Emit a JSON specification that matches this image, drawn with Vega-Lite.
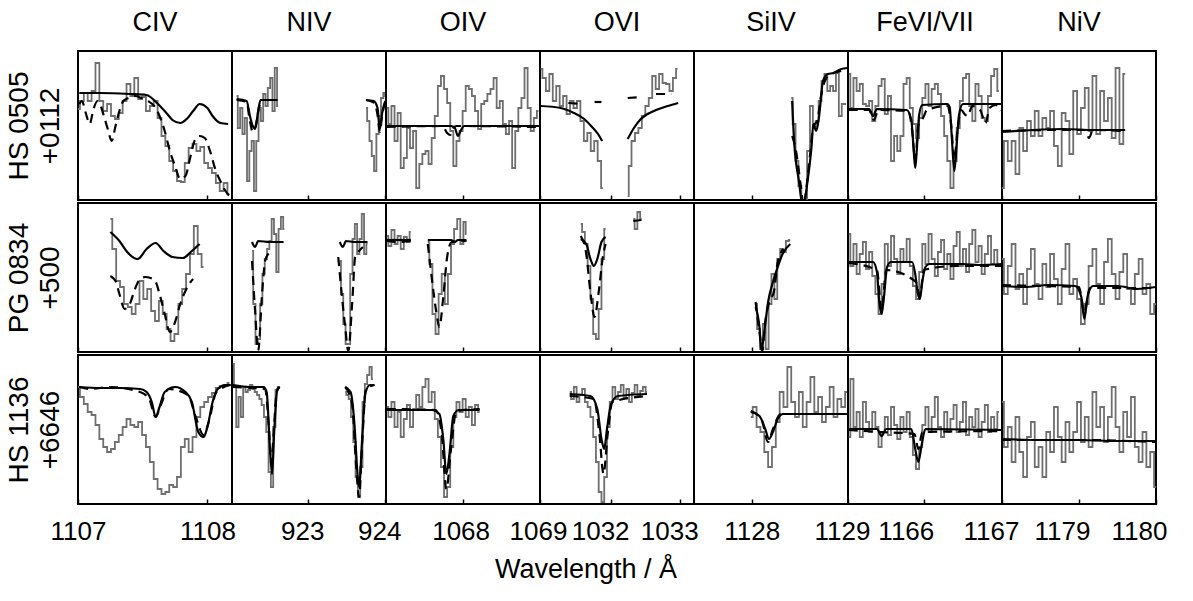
{
  "$schema": "https://vega.github.io/schema/vega-lite/v6.json",
  "background": "white",
  "padding": {"left": 4, "top": 8, "right": 10, "bottom": 5},
  "title": {"text": "Wavelength / Å", "orient": "bottom", "anchor": "middle", "offset": 12},
  "spacing": 0,
  "config": {
    "font": "Liberation Sans",
    "view": {"stroke": "black", "strokeWidth": 2},
    "title": {"fontSize": 27, "fontWeight": "normal", "color": "black", "anchor": "middle", "offset": 14, "font": "Liberation Sans"},
    "axis": {"titleFont": "Liberation Sans", "titleFontSize": 28, "titleFontWeight": "normal", "titleColor": "black"},
    "axisX": {"labelFontSize": 26, "labelColor": "black", "labelFont": "Liberation Sans", "tickColor": "black", "tickSize": -5, "tickWidth": 1.5, "labelPadding": 19, "domain": false, "grid": false, "labelFlush": false, "labelOverlap": false, "format": "d"},
    "line": {"color": "black", "strokeWidth": 2.2, "interpolate": "monotone"},
    "rule": {"color": "black", "strokeWidth": 2, "strokeDash": [2, 7]}
  },
  "datasets": {
    "CIV": [
      {"s":1,"k":"L","w":1107.60},{"s":1,"k":"L","w":1107.90},{"s":1,"k":"L","w":1108.00},
      {"s":2,"k":"L","w":1107.60},{"s":2,"k":"L","w":1107.90},{"s":2,"k":"L","w":1108.00},
      {"s":3,"k":"L","w":1107.60},{"s":3,"k":"L","w":1107.90},{"s":3,"k":"L","w":1108.00},
      {"s":1,"k":"o","w":1107.00,"f":0.91},{"s":1,"k":"o","w":1107.03,"f":0.99},{"s":1,"k":"o","w":1107.06,"f":1.07},{"s":1,"k":"o","w":1107.09,"f":0.99},{"s":1,"k":"o","w":1107.12,"f":1.09},{"s":1,"k":"o","w":1107.15,"f":1.37},{"s":1,"k":"o","w":1107.18,"f":0.99},{"s":1,"k":"o","w":1107.21,"f":0.89},{"s":1,"k":"o","w":1107.24,"f":0.96},{"s":1,"k":"o","w":1107.27,"f":0.84},{"s":1,"k":"o","w":1107.30,"f":0.81},{"s":1,"k":"o","w":1107.33,"f":0.87},{"s":1,"k":"o","w":1107.36,"f":0.99},{"s":1,"k":"o","w":1107.39,"f":1.16},{"s":1,"k":"o","w":1107.42,"f":1.04},{"s":1,"k":"o","w":1107.45,"f":1.22},{"s":1,"k":"o","w":1107.48,"f":1.01},{"s":1,"k":"o","w":1107.51,"f":1.03},{"s":1,"k":"o","w":1107.54,"f":0.89},{"s":1,"k":"o","w":1107.57,"f":0.94},{"s":1,"k":"o","w":1107.60,"f":0.99},{"s":1,"k":"o","w":1107.63,"f":0.82},{"s":1,"k":"o","w":1107.66,"f":0.64},{"s":1,"k":"o","w":1107.69,"f":0.54},{"s":1,"k":"o","w":1107.72,"f":0.39},{"s":1,"k":"o","w":1107.75,"f":0.29},{"s":1,"k":"o","w":1107.78,"f":0.19},{"s":1,"k":"o","w":1107.81,"f":0.18},{"s":1,"k":"o","w":1107.84,"f":0.37},{"s":1,"k":"o","w":1107.87,"f":0.52},{"s":1,"k":"o","w":1107.90,"f":0.56},{"s":1,"k":"o","w":1107.93,"f":0.49},{"s":1,"k":"o","w":1107.96,"f":0.53},{"s":1,"k":"o","w":1107.99,"f":0.37},{"s":1,"k":"o","w":1108.02,"f":0.32},{"s":1,"k":"o","w":1108.05,"f":0.27},{"s":1,"k":"o","w":1108.08,"f":0.17},{"s":1,"k":"o","w":1108.11,"f":0.09},{"s":1,"k":"o","w":1108.14,"f":0.17},{"s":1,"k":"o","w":1108.17,"f":0.06},
      {"s":1,"k":"a","w":1107.01,"f":1.07},{"s":1,"k":"a","w":1107.17,"f":1.07},{"s":1,"k":"a","w":1107.40,"f":1.06},{"s":1,"k":"a","w":1107.53,"f":1.05},{"s":1,"k":"a","w":1107.61,"f":0.97},{"s":1,"k":"a","w":1107.69,"f":0.86},{"s":1,"k":"a","w":1107.73,"f":0.80},{"s":1,"k":"a","w":1107.79,"f":0.77},{"s":1,"k":"a","w":1107.84,"f":0.81},{"s":1,"k":"a","w":1107.89,"f":0.89},{"s":1,"k":"a","w":1107.94,"f":0.96},{"s":1,"k":"a","w":1108.00,"f":0.92},{"s":1,"k":"a","w":1108.04,"f":0.84},{"s":1,"k":"a","w":1108.10,"f":0.77},{"s":1,"k":"a","w":1108.16,"f":0.76},
      {"s":1,"k":"b","w":1107.01,"f":0.96},{"s":1,"k":"b","w":1107.03,"f":0.99},{"s":1,"k":"b","w":1107.06,"f":0.87},{"s":1,"k":"b","w":1107.09,"f":0.76},{"s":1,"k":"b","w":1107.12,"f":0.91},{"s":1,"k":"b","w":1107.15,"f":0.99},{"s":1,"k":"b","w":1107.17,"f":0.96},{"s":1,"k":"b","w":1107.20,"f":0.84},{"s":1,"k":"b","w":1107.23,"f":0.71},{"s":1,"k":"b","w":1107.26,"f":0.59},{"s":1,"k":"b","w":1107.29,"f":0.74},{"s":1,"k":"b","w":1107.32,"f":0.89},{"s":1,"k":"b","w":1107.35,"f":0.99},{"s":1,"k":"b","w":1107.39,"f":1.02},{"s":1,"k":"b","w":1107.44,"f":1.04},{"s":1,"k":"b","w":1107.49,"f":1.02},{"s":1,"k":"b","w":1107.54,"f":0.99},{"s":1,"k":"b","w":1107.60,"f":0.92},{"s":1,"k":"b","w":1107.63,"f":0.84},{"s":1,"k":"b","w":1107.67,"f":0.69},{"s":1,"k":"b","w":1107.71,"f":0.49},{"s":1,"k":"b","w":1107.75,"f":0.34},{"s":1,"k":"b","w":1107.79,"f":0.21},{"s":1,"k":"b","w":1107.83,"f":0.24},{"s":1,"k":"b","w":1107.87,"f":0.44},{"s":1,"k":"b","w":1107.90,"f":0.59},{"s":1,"k":"b","w":1107.94,"f":0.64},{"s":1,"k":"b","w":1107.98,"f":0.62},{"s":1,"k":"b","w":1108.02,"f":0.49},{"s":1,"k":"b","w":1108.06,"f":0.31},{"s":1,"k":"b","w":1108.10,"f":0.19},{"s":1,"k":"b","w":1108.14,"f":0.09},{"s":1,"k":"b","w":1108.17,"f":0.04},
      {"s":2,"k":"o","w":1107.25,"f":1.33},{"s":2,"k":"o","w":1107.28,"f":1.03},{"s":2,"k":"o","w":1107.31,"f":0.71},{"s":2,"k":"o","w":1107.34,"f":0.65},{"s":2,"k":"o","w":1107.37,"f":0.48},{"s":2,"k":"o","w":1107.40,"f":0.45},{"s":2,"k":"o","w":1107.43,"f":0.38},{"s":2,"k":"o","w":1107.46,"f":0.48},{"s":2,"k":"o","w":1107.49,"f":0.71},{"s":2,"k":"o","w":1107.52,"f":0.53},{"s":2,"k":"o","w":1107.55,"f":0.63},{"s":2,"k":"o","w":1107.58,"f":0.41},{"s":2,"k":"o","w":1107.61,"f":0.31},{"s":2,"k":"o","w":1107.64,"f":0.51},{"s":2,"k":"o","w":1107.67,"f":0.38},{"s":2,"k":"o","w":1107.70,"f":0.23},{"s":2,"k":"o","w":1107.73,"f":0.11},{"s":2,"k":"o","w":1107.76,"f":0.18},{"s":2,"k":"o","w":1107.79,"f":0.48},{"s":2,"k":"o","w":1107.82,"f":0.63},{"s":2,"k":"o","w":1107.85,"f":0.78},{"s":2,"k":"o","w":1107.88,"f":0.98},{"s":2,"k":"o","w":1107.91,"f":1.26},{"s":2,"k":"o","w":1107.94,"f":0.98},{"s":2,"k":"o","w":1107.97,"f":0.85},
      {"s":2,"k":"a","w":1107.25,"f":1.20},{"s":2,"k":"a","w":1107.32,"f":1.11},{"s":2,"k":"a","w":1107.38,"f":1.00},{"s":2,"k":"a","w":1107.46,"f":0.93},{"s":2,"k":"a","w":1107.53,"f":1.03},{"s":2,"k":"a","w":1107.60,"f":1.09},{"s":2,"k":"a","w":1107.66,"f":1.01},{"s":2,"k":"a","w":1107.73,"f":0.95},{"s":2,"k":"a","w":1107.81,"f":0.94},{"s":2,"k":"a","w":1107.88,"f":1.01},{"s":2,"k":"a","w":1107.94,"f":1.08},
      {"s":2,"k":"b","w":1107.25,"f":0.76},{"s":2,"k":"b","w":1107.29,"f":0.71},{"s":2,"k":"b","w":1107.32,"f":0.58},{"s":2,"k":"b","w":1107.36,"f":0.43},{"s":2,"k":"b","w":1107.40,"f":0.48},{"s":2,"k":"b","w":1107.44,"f":0.63},{"s":2,"k":"b","w":1107.48,"f":0.73},{"s":2,"k":"b","w":1107.52,"f":0.75},{"s":2,"k":"b","w":1107.56,"f":0.74},{"s":2,"k":"b","w":1107.60,"f":0.70},{"s":2,"k":"b","w":1107.63,"f":0.58},{"s":2,"k":"b","w":1107.67,"f":0.38},{"s":2,"k":"b","w":1107.71,"f":0.20},{"s":2,"k":"b","w":1107.75,"f":0.30},{"s":2,"k":"b","w":1107.79,"f":0.48},{"s":2,"k":"b","w":1107.83,"f":0.61},{"s":2,"k":"b","w":1107.87,"f":0.70},{"s":2,"k":"b","w":1107.89,"f":0.73},
      {"s":3,"k":"o","w":1107.00,"f":1.17},{"s":3,"k":"o","w":1107.03,"f":1.07},{"s":3,"k":"o","w":1107.06,"f":1.00},{"s":3,"k":"o","w":1107.09,"f":0.92},{"s":3,"k":"o","w":1107.12,"f":0.89},{"s":3,"k":"o","w":1107.15,"f":0.79},{"s":3,"k":"o","w":1107.18,"f":0.65},{"s":3,"k":"o","w":1107.21,"f":0.57},{"s":3,"k":"o","w":1107.24,"f":0.52},{"s":3,"k":"o","w":1107.27,"f":0.55},{"s":3,"k":"o","w":1107.30,"f":0.62},{"s":3,"k":"o","w":1107.33,"f":0.69},{"s":3,"k":"o","w":1107.36,"f":0.77},{"s":3,"k":"o","w":1107.39,"f":0.85},{"s":3,"k":"o","w":1107.42,"f":0.79},{"s":3,"k":"o","w":1107.45,"f":0.77},{"s":3,"k":"o","w":1107.48,"f":0.82},{"s":3,"k":"o","w":1107.51,"f":0.69},{"s":3,"k":"o","w":1107.54,"f":0.57},{"s":3,"k":"o","w":1107.57,"f":0.42},{"s":3,"k":"o","w":1107.60,"f":0.25},{"s":3,"k":"o","w":1107.63,"f":0.15},{"s":3,"k":"o","w":1107.66,"f":0.10},{"s":3,"k":"o","w":1107.69,"f":0.12},{"s":3,"k":"o","w":1107.72,"f":0.19},{"s":3,"k":"o","w":1107.75,"f":0.17},{"s":3,"k":"o","w":1107.78,"f":0.27},{"s":3,"k":"o","w":1107.81,"f":0.57},{"s":3,"k":"o","w":1107.84,"f":0.65},{"s":3,"k":"o","w":1107.87,"f":0.52},{"s":3,"k":"o","w":1107.90,"f":0.67},{"s":3,"k":"o","w":1107.93,"f":0.87},{"s":3,"k":"o","w":1107.96,"f":0.97},{"s":3,"k":"o","w":1107.99,"f":1.02},{"s":3,"k":"o","w":1108.02,"f":1.07},{"s":3,"k":"o","w":1108.05,"f":1.11},{"s":3,"k":"o","w":1108.08,"f":1.16},{"s":3,"k":"o","w":1108.11,"f":1.18},{"s":3,"k":"o","w":1108.14,"f":1.19},{"s":3,"k":"o","w":1108.17,"f":1.21},
      {"s":3,"k":"a","w":1107.01,"f":1.17},{"s":3,"k":"a","w":1107.17,"f":1.16},{"s":3,"k":"a","w":1107.32,"f":1.16},{"s":3,"k":"a","w":1107.48,"f":1.15},{"s":3,"k":"a","w":1107.53,"f":1.12},{"s":3,"k":"a","w":1107.57,"f":1.02},{"s":3,"k":"a","w":1107.60,"f":0.87},{"s":3,"k":"a","w":1107.63,"f":0.97},{"s":3,"k":"a","w":1107.67,"f":1.12},{"s":3,"k":"a","w":1107.75,"f":1.17},{"s":3,"k":"a","w":1107.83,"f":1.12},{"s":3,"k":"a","w":1107.88,"f":1.02},{"s":3,"k":"a","w":1107.93,"f":0.72},{"s":3,"k":"a","w":1107.97,"f":0.67},{"s":3,"k":"a","w":1108.00,"f":0.77},{"s":3,"k":"a","w":1108.04,"f":1.02},{"s":3,"k":"a","w":1108.08,"f":1.15},{"s":3,"k":"a","w":1108.14,"f":1.19},{"s":3,"k":"a","w":1108.18,"f":1.19},
      {"s":3,"k":"b","w":1107.01,"f":1.17},{"s":3,"k":"b","w":1107.09,"f":1.15},{"s":3,"k":"b","w":1107.25,"f":1.17},{"s":3,"k":"b","w":1107.48,"f":1.12},{"s":3,"k":"b","w":1107.55,"f":1.05},{"s":3,"k":"b","w":1107.60,"f":0.87},{"s":3,"k":"b","w":1107.64,"f":0.99},{"s":3,"k":"b","w":1107.70,"f":1.15},{"s":3,"k":"b","w":1107.85,"f":1.09},{"s":3,"k":"b","w":1107.91,"f":0.87},{"s":3,"k":"b","w":1107.97,"f":0.69},{"s":3,"k":"b","w":1108.01,"f":0.82},{"s":3,"k":"b","w":1108.07,"f":1.12},{"s":3,"k":"b","w":1108.18,"f":1.19}
    ],
    "NIV": [
      {"s":1,"k":"L","w":922.52},{"s":1,"k":"L","w":923.12},{"s":1,"k":"L","w":923.19},{"s":1,"k":"L","w":923.71},
      {"s":2,"k":"L","w":922.52},{"s":2,"k":"L","w":923.12},{"s":2,"k":"L","w":923.19},{"s":2,"k":"L","w":923.71},
      {"s":3,"k":"L","w":922.52},{"s":3,"k":"L","w":923.12},{"s":3,"k":"L","w":923.19},{"s":3,"k":"L","w":923.71},
      {"s":1,"k":"o","g":1,"w":922.07,"f":1.04},{"s":1,"k":"o","g":1,"w":922.10,"f":0.72},{"s":1,"k":"o","g":1,"w":922.13,"f":0.92},{"s":1,"k":"o","g":1,"w":922.16,"f":0.66},{"s":1,"k":"o","g":1,"w":922.19,"f":0.82},{"s":1,"k":"o","g":1,"w":922.22,"f":0.19},{"s":1,"k":"o","g":1,"w":922.25,"f":0.49},{"s":1,"k":"o","g":1,"w":922.28,"f":0.59},{"s":1,"k":"o","g":1,"w":922.31,"f":0.09},{"s":1,"k":"o","g":1,"w":922.34,"f":0.59},{"s":1,"k":"o","g":1,"w":922.37,"f":0.92},{"s":1,"k":"o","g":1,"w":922.40,"f":0.79},{"s":1,"k":"o","g":1,"w":922.43,"f":1.06},{"s":1,"k":"o","g":1,"w":922.46,"f":0.94},{"s":1,"k":"o","g":1,"w":922.49,"f":1.12},{"s":1,"k":"o","g":1,"w":922.52,"f":1.22},{"s":1,"k":"o","g":1,"w":922.55,"f":0.89},{"s":1,"k":"o","g":1,"w":922.58,"f":1.32},{"s":1,"k":"o","g":1,"w":922.61,"f":0.94},
      {"s":1,"k":"o","g":2,"w":923.75,"f":0.92},{"s":1,"k":"o","g":2,"w":923.78,"f":0.79},{"s":1,"k":"o","g":2,"w":923.81,"f":0.59},{"s":1,"k":"o","g":2,"w":923.84,"f":0.44},{"s":1,"k":"o","g":2,"w":923.87,"f":0.29},{"s":1,"k":"o","g":2,"w":923.90,"f":0.66},{"s":1,"k":"o","g":2,"w":923.93,"f":0.84},{"s":1,"k":"o","g":2,"w":923.96,"f":1.02},{"s":1,"k":"o","g":2,"w":923.99,"f":1.07},{"s":1,"k":"o","g":2,"w":924.01,"f":1.04},
      {"s":1,"k":"a","g":1,"w":922.07,"f":1.01},{"s":1,"k":"a","g":1,"w":922.20,"f":0.99},{"s":1,"k":"a","g":1,"w":922.24,"f":0.85},{"s":1,"k":"a","g":1,"w":922.27,"f":0.76},{"s":1,"k":"a","g":1,"w":922.31,"f":0.71},{"s":1,"k":"a","g":1,"w":922.35,"f":0.89},{"s":1,"k":"a","g":1,"w":922.38,"f":1.00},{"s":1,"k":"a","g":1,"w":922.47,"f":1.00},{"s":1,"k":"a","g":1,"w":922.60,"f":1.00},
      {"s":1,"k":"a","g":2,"w":923.75,"f":1.00},{"s":1,"k":"a","g":2,"w":923.85,"f":0.99},{"s":1,"k":"a","g":2,"w":923.90,"f":0.92},{"s":1,"k":"a","g":2,"w":923.93,"f":0.71},{"s":1,"k":"a","g":2,"w":923.96,"f":0.87},{"s":1,"k":"a","g":2,"w":924.00,"f":0.99},
      {"s":1,"k":"b","g":1,"w":922.07,"f":1.00},{"s":1,"k":"b","g":1,"w":922.20,"f":0.98},{"s":1,"k":"b","g":1,"w":922.24,"f":0.80},{"s":1,"k":"b","g":1,"w":922.28,"f":0.68},{"s":1,"k":"b","g":1,"w":922.32,"f":0.75},{"s":1,"k":"b","g":1,"w":922.36,"f":0.92},{"s":1,"k":"b","g":1,"w":922.40,"f":1.00},{"s":1,"k":"b","g":1,"w":922.60,"f":1.00},
      {"s":1,"k":"b","g":2,"w":923.75,"f":1.00},{"s":1,"k":"b","g":2,"w":923.86,"f":0.97},{"s":1,"k":"b","g":2,"w":923.90,"f":0.85},{"s":1,"k":"b","g":2,"w":923.93,"f":0.68},{"s":1,"k":"b","g":2,"w":923.96,"f":0.85},{"s":1,"k":"b","g":2,"w":924.00,"f":0.98},
      {"s":2,"k":"o","g":1,"w":922.27,"f":1.01},{"s":2,"k":"o","g":1,"w":922.30,"f":0.48},{"s":2,"k":"o","g":1,"w":922.33,"f":0.08},{"s":2,"k":"o","g":1,"w":922.36,"f":0.13},{"s":2,"k":"o","g":1,"w":922.39,"f":0.48},{"s":2,"k":"o","g":1,"w":922.42,"f":0.78},{"s":2,"k":"o","g":1,"w":922.45,"f":0.93},{"s":2,"k":"o","g":1,"w":922.48,"f":1.03},{"s":2,"k":"o","g":1,"w":922.51,"f":1.11},{"s":2,"k":"o","g":1,"w":922.54,"f":1.33},{"s":2,"k":"o","g":1,"w":922.57,"f":1.18},{"s":2,"k":"o","g":1,"w":922.60,"f":0.80},{"s":2,"k":"o","g":1,"w":922.63,"f":1.23},{"s":2,"k":"o","g":1,"w":922.66,"f":1.35},{"s":2,"k":"o","g":1,"w":922.69,"f":1.23},
      {"s":2,"k":"o","g":2,"w":923.41,"f":0.91},{"s":2,"k":"o","g":2,"w":923.44,"f":0.58},{"s":2,"k":"o","g":2,"w":923.47,"f":0.28},{"s":2,"k":"o","g":2,"w":923.50,"f":0.08},{"s":2,"k":"o","g":2,"w":923.53,"f":0.08},{"s":2,"k":"o","g":2,"w":923.56,"f":0.78},{"s":2,"k":"o","g":2,"w":923.59,"f":1.13},{"s":2,"k":"o","g":2,"w":923.62,"f":1.28},{"s":2,"k":"o","g":2,"w":923.65,"f":0.98},{"s":2,"k":"o","g":2,"w":923.68,"f":1.13},{"s":2,"k":"o","g":2,"w":923.71,"f":1.38},{"s":2,"k":"o","g":2,"w":923.74,"f":0.98},{"s":2,"k":"o","g":2,"w":923.77,"f":1.08},
      {"s":2,"k":"a","g":1,"w":922.27,"f":1.10},{"s":2,"k":"a","g":1,"w":922.31,"f":1.05},{"s":2,"k":"a","g":1,"w":922.35,"f":1.11},{"s":2,"k":"a","g":1,"w":922.50,"f":1.10},{"s":2,"k":"a","g":1,"w":922.68,"f":1.10},
      {"s":2,"k":"a","g":2,"w":923.41,"f":1.10},{"s":2,"k":"a","g":2,"w":923.45,"f":1.05},{"s":2,"k":"a","g":2,"w":923.49,"f":1.11},{"s":2,"k":"a","g":2,"w":923.60,"f":1.10},{"s":2,"k":"a","g":2,"w":923.77,"f":1.10},
      {"s":2,"k":"b","g":1,"w":922.27,"f":0.91},{"s":2,"k":"b","g":1,"w":922.31,"f":0.41},{"s":2,"k":"b","g":1,"w":922.35,"f":0.01},{"s":2,"k":"b","g":1,"w":922.40,"f":0.58},{"s":2,"k":"b","g":1,"w":922.44,"f":0.91},{"s":2,"k":"b","g":1,"w":922.48,"f":0.98},{"s":2,"k":"b","g":1,"w":922.53,"f":1.00},
      {"s":2,"k":"b","g":2,"w":923.39,"f":0.95},{"s":2,"k":"b","g":2,"w":923.48,"f":0.25},{"s":2,"k":"b","g":2,"w":923.52,"f":0.01},{"s":2,"k":"b","g":2,"w":923.57,"f":0.48},{"s":2,"k":"b","g":2,"w":923.61,"f":0.95},{"s":2,"k":"b","g":2,"w":923.65,"f":1.00},{"s":2,"k":"b","g":2,"w":923.71,"f":1.05},
      {"s":3,"k":"o","g":1,"w":922.02,"f":1.40},{"s":3,"k":"o","g":1,"w":922.05,"f":1.17},{"s":3,"k":"o","g":1,"w":922.08,"f":0.77},{"s":3,"k":"o","g":1,"w":922.11,"f":1.07},{"s":3,"k":"o","g":1,"w":922.14,"f":0.87},{"s":3,"k":"o","g":1,"w":922.17,"f":1.17},{"s":3,"k":"o","g":1,"w":922.20,"f":1.12},{"s":3,"k":"o","g":1,"w":922.23,"f":1.14},{"s":3,"k":"o","g":1,"w":922.26,"f":1.19},{"s":3,"k":"o","g":1,"w":922.29,"f":1.15},{"s":3,"k":"o","g":1,"w":922.32,"f":1.12},{"s":3,"k":"o","g":1,"w":922.35,"f":1.09},{"s":3,"k":"o","g":1,"w":922.38,"f":1.05},{"s":3,"k":"o","g":1,"w":922.41,"f":0.99},{"s":3,"k":"o","g":1,"w":922.44,"f":0.87},{"s":3,"k":"o","g":1,"w":922.47,"f":0.72},{"s":3,"k":"o","g":1,"w":922.50,"f":0.32},{"s":3,"k":"o","g":1,"w":922.53,"f":0.17},{"s":3,"k":"o","g":1,"w":922.56,"f":0.77},{"s":3,"k":"o","g":1,"w":922.59,"f":1.14},{"s":3,"k":"o","g":1,"w":922.62,"f":1.17},
      {"s":3,"k":"o","g":2,"w":923.48,"f":1.12},{"s":3,"k":"o","g":2,"w":923.51,"f":1.09},{"s":3,"k":"o","g":2,"w":923.54,"f":1.05},{"s":3,"k":"o","g":2,"w":923.57,"f":0.87},{"s":3,"k":"o","g":2,"w":923.60,"f":0.62},{"s":3,"k":"o","g":2,"w":923.63,"f":0.27},{"s":3,"k":"o","g":2,"w":923.66,"f":0.07},{"s":3,"k":"o","g":2,"w":923.69,"f":0.37},{"s":3,"k":"o","g":2,"w":923.72,"f":1.02},{"s":3,"k":"o","g":2,"w":923.75,"f":1.20},{"s":3,"k":"o","g":2,"w":923.78,"f":1.29},{"s":3,"k":"o","g":2,"w":923.81,"f":1.37},{"s":3,"k":"o","g":2,"w":923.84,"f":1.25},
      {"s":3,"k":"a","g":1,"w":922.02,"f":1.19},{"s":3,"k":"a","g":1,"w":922.25,"f":1.17},{"s":3,"k":"a","g":1,"w":922.42,"f":1.17},{"s":3,"k":"a","g":1,"w":922.46,"f":1.12},{"s":3,"k":"a","g":1,"w":922.50,"f":0.60},{"s":3,"k":"a","g":1,"w":922.53,"f":0.30},{"s":3,"k":"a","g":1,"w":922.56,"f":0.75},{"s":3,"k":"a","g":1,"w":922.60,"f":1.15},{"s":3,"k":"a","g":1,"w":922.63,"f":1.17},
      {"s":3,"k":"a","g":2,"w":923.48,"f":1.17},{"s":3,"k":"a","g":2,"w":923.55,"f":1.12},{"s":3,"k":"a","g":2,"w":923.60,"f":0.80},{"s":3,"k":"a","g":2,"w":923.64,"f":0.30},{"s":3,"k":"a","g":2,"w":923.66,"f":0.17},{"s":3,"k":"a","g":2,"w":923.70,"f":0.65},{"s":3,"k":"a","g":2,"w":923.74,"f":1.10},{"s":3,"k":"a","g":2,"w":923.80,"f":1.19},{"s":3,"k":"a","g":2,"w":923.86,"f":1.19},
      {"s":3,"k":"b","g":1,"w":922.02,"f":1.17},{"s":3,"k":"b","g":1,"w":922.44,"f":1.15},{"s":3,"k":"b","g":1,"w":922.49,"f":0.75},{"s":3,"k":"b","g":1,"w":922.52,"f":0.40},{"s":3,"k":"b","g":1,"w":922.55,"f":0.70},{"s":3,"k":"b","g":1,"w":922.59,"f":1.12},{"s":3,"k":"b","g":1,"w":922.63,"f":1.17},
      {"s":3,"k":"b","g":2,"w":923.48,"f":1.17},{"s":3,"k":"b","g":2,"w":923.57,"f":1.00},{"s":3,"k":"b","g":2,"w":923.62,"f":0.40},{"s":3,"k":"b","g":2,"w":923.66,"f":0.07},{"s":3,"k":"b","g":2,"w":923.70,"f":0.60},{"s":3,"k":"b","g":2,"w":923.75,"f":1.15},{"s":3,"k":"b","g":2,"w":923.86,"f":1.19}
    ],
    "OIV": [
      {"s":1,"k":"L","w":1067.80},{"s":2,"k":"L","w":1067.80},{"s":3,"k":"L","w":1067.80},
      {"s":1,"k":"o","w":1067.02,"f":0.92},{"s":1,"k":"o","w":1067.06,"f":0.76},{"s":1,"k":"o","w":1067.10,"f":0.94},{"s":1,"k":"o","w":1067.14,"f":0.59},{"s":1,"k":"o","w":1067.18,"f":0.87},{"s":1,"k":"o","w":1067.22,"f":0.32},{"s":1,"k":"o","w":1067.26,"f":0.42},{"s":1,"k":"o","w":1067.30,"f":0.72},{"s":1,"k":"o","w":1067.34,"f":0.52},{"s":1,"k":"o","w":1067.38,"f":0.69},{"s":1,"k":"o","w":1067.42,"f":0.12},{"s":1,"k":"o","w":1067.46,"f":0.36},{"s":1,"k":"o","w":1067.50,"f":0.46},{"s":1,"k":"o","w":1067.54,"f":0.49},{"s":1,"k":"o","w":1067.58,"f":0.36},{"s":1,"k":"o","w":1067.62,"f":0.62},{"s":1,"k":"o","w":1067.66,"f":0.84},{"s":1,"k":"o","w":1067.70,"f":1.14},{"s":1,"k":"o","w":1067.74,"f":1.24},{"s":1,"k":"o","w":1067.78,"f":1.11},{"s":1,"k":"o","w":1067.82,"f":0.97},{"s":1,"k":"o","w":1067.86,"f":0.69},{"s":1,"k":"o","w":1067.90,"f":0.34},{"s":1,"k":"o","w":1067.94,"f":0.59},{"s":1,"k":"o","w":1067.98,"f":0.69},{"s":1,"k":"o","w":1068.02,"f":0.89},{"s":1,"k":"o","w":1068.06,"f":1.14},{"s":1,"k":"o","w":1068.10,"f":1.11},{"s":1,"k":"o","w":1068.14,"f":1.04},{"s":1,"k":"o","w":1068.18,"f":0.89},{"s":1,"k":"o","w":1068.22,"f":0.71},{"s":1,"k":"o","w":1068.26,"f":0.96},{"s":1,"k":"o","w":1068.30,"f":0.99},{"s":1,"k":"o","w":1068.34,"f":1.06},{"s":1,"k":"o","w":1068.38,"f":1.11},{"s":1,"k":"o","w":1068.42,"f":1.22},{"s":1,"k":"o","w":1068.46,"f":0.92},{"s":1,"k":"o","w":1068.50,"f":0.99},{"s":1,"k":"o","w":1068.54,"f":0.76},{"s":1,"k":"o","w":1068.58,"f":0.66},{"s":1,"k":"o","w":1068.62,"f":0.79},{"s":1,"k":"o","w":1068.66,"f":0.32},{"s":1,"k":"o","w":1068.70,"f":0.69},{"s":1,"k":"o","w":1068.74,"f":0.92},{"s":1,"k":"o","w":1068.78,"f":1.02},{"s":1,"k":"o","w":1068.82,"f":1.32},{"s":1,"k":"o","w":1068.86,"f":0.92},{"s":1,"k":"o","w":1068.90,"f":0.69},{"s":1,"k":"o","w":1068.94,"f":0.82},{"s":1,"k":"o","w":1068.98,"f":0.89},
      {"s":1,"k":"a","w":1067.02,"f":0.74},{"s":1,"k":"a","w":1067.50,"f":0.74},{"s":1,"k":"a","w":1067.85,"f":0.74},{"s":1,"k":"a","w":1067.90,"f":0.72},{"s":1,"k":"a","w":1067.94,"f":0.64},{"s":1,"k":"a","w":1067.98,"f":0.70},{"s":1,"k":"a","w":1068.02,"f":0.74},{"s":1,"k":"a","w":1068.50,"f":0.74},{"s":1,"k":"a","w":1068.99,"f":0.74},
      {"s":1,"k":"b","w":1067.02,"f":0.73},{"s":1,"k":"b","w":1067.74,"f":0.74},{"s":1,"k":"b","w":1067.80,"f":0.67},{"s":1,"k":"b","w":1067.84,"f":0.65},{"s":1,"k":"b","w":1067.88,"f":0.72},{"s":1,"k":"b","w":1067.92,"f":0.74},{"s":1,"k":"b","w":1068.99,"f":0.73},
      {"s":2,"k":"o","g":1,"w":1067.02,"f":1.16},{"s":2,"k":"o","g":1,"w":1067.06,"f":1.06},{"s":2,"k":"o","g":1,"w":1067.10,"f":1.22},{"s":2,"k":"o","g":1,"w":1067.14,"f":1.08},{"s":2,"k":"o","g":1,"w":1067.18,"f":1.16},{"s":2,"k":"o","g":1,"w":1067.22,"f":1.03},{"s":2,"k":"o","g":1,"w":1067.26,"f":1.15},{"s":2,"k":"o","g":1,"w":1067.30,"f":1.10},{"s":2,"k":"o","g":1,"w":1067.33,"f":1.20},
      {"s":2,"k":"o","g":2,"w":1067.55,"f":1.10},{"s":2,"k":"o","g":2,"w":1067.59,"f":0.88},{"s":2,"k":"o","g":2,"w":1067.63,"f":0.38},{"s":2,"k":"o","g":2,"w":1067.67,"f":0.18},{"s":2,"k":"o","g":2,"w":1067.71,"f":0.58},{"s":2,"k":"o","g":2,"w":1067.75,"f":0.78},{"s":2,"k":"o","g":2,"w":1067.79,"f":0.48},{"s":2,"k":"o","g":2,"w":1067.83,"f":0.78},{"s":2,"k":"o","g":2,"w":1067.87,"f":1.08},{"s":2,"k":"o","g":2,"w":1067.91,"f":1.23},{"s":2,"k":"o","g":2,"w":1067.95,"f":1.33},{"s":2,"k":"o","g":2,"w":1067.99,"f":1.08},{"s":2,"k":"o","g":2,"w":1068.03,"f":1.30},{"s":2,"k":"o","g":2,"w":1068.05,"f":1.18},
      {"s":2,"k":"a","g":1,"w":1067.02,"f":1.12},{"s":2,"k":"a","g":1,"w":1067.33,"f":1.12},
      {"s":2,"k":"a","g":2,"w":1067.55,"f":1.12},{"s":2,"k":"a","g":2,"w":1067.85,"f":1.12},{"s":2,"k":"a","g":2,"w":1067.90,"f":1.10},{"s":2,"k":"a","g":2,"w":1067.94,"f":1.12},{"s":2,"k":"a","g":2,"w":1068.05,"f":1.12},
      {"s":2,"k":"b","g":1,"w":1067.02,"f":1.11},{"s":2,"k":"b","g":1,"w":1067.15,"f":1.10},{"s":2,"k":"b","g":1,"w":1067.33,"f":1.11},
      {"s":2,"k":"b","g":2,"w":1067.55,"f":1.08},{"s":2,"k":"b","g":2,"w":1067.60,"f":0.75},{"s":2,"k":"b","g":2,"w":1067.66,"f":0.40},{"s":2,"k":"b","g":2,"w":1067.70,"f":0.25},{"s":2,"k":"b","g":2,"w":1067.75,"f":0.55},{"s":2,"k":"b","g":2,"w":1067.80,"f":0.95},{"s":2,"k":"b","g":2,"w":1067.86,"f":1.10},{"s":2,"k":"b","g":2,"w":1068.05,"f":1.11},
      {"s":3,"k":"o","w":1067.02,"f":0.97},{"s":3,"k":"o","w":1067.06,"f":0.87},{"s":3,"k":"o","w":1067.10,"f":1.02},{"s":3,"k":"o","w":1067.14,"f":0.77},{"s":3,"k":"o","w":1067.18,"f":0.92},{"s":3,"k":"o","w":1067.22,"f":0.67},{"s":3,"k":"o","w":1067.26,"f":0.85},{"s":3,"k":"o","w":1067.30,"f":0.99},{"s":3,"k":"o","w":1067.34,"f":0.77},{"s":3,"k":"o","w":1067.38,"f":0.95},{"s":3,"k":"o","w":1067.42,"f":1.09},{"s":3,"k":"o","w":1067.46,"f":0.97},{"s":3,"k":"o","w":1067.50,"f":1.17},{"s":3,"k":"o","w":1067.54,"f":1.25},{"s":3,"k":"o","w":1067.58,"f":1.02},{"s":3,"k":"o","w":1067.62,"f":1.12},{"s":3,"k":"o","w":1067.66,"f":0.85},{"s":3,"k":"o","w":1067.70,"f":0.67},{"s":3,"k":"o","w":1067.74,"f":0.37},{"s":3,"k":"o","w":1067.78,"f":0.07},{"s":3,"k":"o","w":1067.82,"f":0.17},{"s":3,"k":"o","w":1067.86,"f":0.57},{"s":3,"k":"o","w":1067.90,"f":0.87},{"s":3,"k":"o","w":1067.94,"f":1.02},{"s":3,"k":"o","w":1067.98,"f":0.92},{"s":3,"k":"o","w":1068.02,"f":1.05},{"s":3,"k":"o","w":1068.06,"f":0.87},{"s":3,"k":"o","w":1068.10,"f":0.97},{"s":3,"k":"o","w":1068.14,"f":0.79},{"s":3,"k":"o","w":1068.18,"f":0.99},{"s":3,"k":"o","w":1068.22,"f":0.92},
      {"s":3,"k":"a","w":1067.02,"f":0.94},{"s":3,"k":"a","w":1067.60,"f":0.94},{"s":3,"k":"a","w":1067.70,"f":0.90},{"s":3,"k":"a","w":1067.75,"f":0.65},{"s":3,"k":"a","w":1067.79,"f":0.30},{"s":3,"k":"a","w":1067.83,"f":0.50},{"s":3,"k":"a","w":1067.88,"f":0.88},{"s":3,"k":"a","w":1067.95,"f":0.94},{"s":3,"k":"a","w":1068.22,"f":0.94},
      {"s":3,"k":"b","w":1067.02,"f":0.95},{"s":3,"k":"b","w":1067.65,"f":0.94},{"s":3,"k":"b","w":1067.73,"f":0.70},{"s":3,"k":"b","w":1067.79,"f":0.15},{"s":3,"k":"b","w":1067.85,"f":0.55},{"s":3,"k":"b","w":1067.92,"f":0.93},{"s":3,"k":"b","w":1068.22,"f":0.95}
    ],
    "OVI": [
      {"s":1,"k":"L","w":1031.90},{"s":2,"k":"L","w":1031.90},{"s":3,"k":"L","w":1031.90},
      {"s":1,"k":"o","g":1,"w":1030.98,"f":1.31},{"s":1,"k":"o","g":1,"w":1031.03,"f":1.22},{"s":1,"k":"o","g":1,"w":1031.08,"f":1.09},{"s":1,"k":"o","g":1,"w":1031.13,"f":1.26},{"s":1,"k":"o","g":1,"w":1031.18,"f":0.99},{"s":1,"k":"o","g":1,"w":1031.23,"f":1.14},{"s":1,"k":"o","g":1,"w":1031.28,"f":0.94},{"s":1,"k":"o","g":1,"w":1031.33,"f":1.04},{"s":1,"k":"o","g":1,"w":1031.38,"f":0.86},{"s":1,"k":"o","g":1,"w":1031.43,"f":0.99},{"s":1,"k":"o","g":1,"w":1031.48,"f":0.92},{"s":1,"k":"o","g":1,"w":1031.53,"f":0.99},{"s":1,"k":"o","g":1,"w":1031.58,"f":0.79},{"s":1,"k":"o","g":1,"w":1031.63,"f":0.59},{"s":1,"k":"o","g":1,"w":1031.68,"f":0.67},{"s":1,"k":"o","g":1,"w":1031.73,"f":0.49},{"s":1,"k":"o","g":1,"w":1031.78,"f":0.59},{"s":1,"k":"o","g":1,"w":1031.83,"f":0.39},{"s":1,"k":"o","g":1,"w":1031.88,"f":0.12},
      {"s":1,"k":"o","g":2,"w":1032.24,"f":0.04},{"s":1,"k":"o","g":2,"w":1032.27,"f":0.34},{"s":1,"k":"o","g":2,"w":1032.32,"f":0.59},{"s":1,"k":"o","g":2,"w":1032.37,"f":0.67},{"s":1,"k":"o","g":2,"w":1032.42,"f":0.72},{"s":1,"k":"o","g":2,"w":1032.47,"f":0.84},{"s":1,"k":"o","g":2,"w":1032.52,"f":0.94},{"s":1,"k":"o","g":2,"w":1032.57,"f":1.02},{"s":1,"k":"o","g":2,"w":1032.62,"f":1.24},{"s":1,"k":"o","g":2,"w":1032.67,"f":1.11},{"s":1,"k":"o","g":2,"w":1032.72,"f":1.26},{"s":1,"k":"o","g":2,"w":1032.77,"f":1.17},{"s":1,"k":"o","g":2,"w":1032.82,"f":1.16},{"s":1,"k":"o","g":2,"w":1032.87,"f":1.09},{"s":1,"k":"o","g":2,"w":1032.92,"f":1.22},{"s":1,"k":"o","g":2,"w":1032.96,"f":1.31},
      {"s":1,"k":"a","g":1,"w":1030.98,"f":0.94},{"s":1,"k":"a","g":1,"w":1031.27,"f":0.92},{"s":1,"k":"a","g":1,"w":1031.46,"f":0.87},{"s":1,"k":"a","g":1,"w":1031.61,"f":0.81},{"s":1,"k":"a","g":1,"w":1031.71,"f":0.74},{"s":1,"k":"a","g":1,"w":1031.81,"f":0.66},{"s":1,"k":"a","g":1,"w":1031.87,"f":0.59},
      {"s":1,"k":"a","g":2,"w":1032.24,"f":0.61},{"s":1,"k":"a","g":2,"w":1032.33,"f":0.72},{"s":1,"k":"a","g":2,"w":1032.43,"f":0.81},{"s":1,"k":"a","g":2,"w":1032.62,"f":0.89},{"s":1,"k":"a","g":2,"w":1032.82,"f":0.94},{"s":1,"k":"a","g":2,"w":1032.97,"f":0.97},
      {"s":1,"k":"b","g":1,"w":1031.38,"f":0.97},{"s":1,"k":"b","g":1,"w":1031.57,"f":0.96},
      {"s":1,"k":"b","g":2,"w":1031.76,"f":0.98},{"s":1,"k":"b","g":2,"w":1031.86,"f":0.98},
      {"s":1,"k":"b","g":3,"w":1032.24,"f":1.02},{"s":1,"k":"b","g":3,"w":1032.43,"f":1.03},
      {"s":1,"k":"b","g":4,"w":1032.65,"f":1.06},{"s":1,"k":"b","g":4,"w":1032.87,"f":1.06},
      {"s":2,"k":"o","g":1,"w":1031.56,"f":1.28},{"s":2,"k":"o","g":1,"w":1031.60,"f":1.20},{"s":2,"k":"o","g":1,"w":1031.64,"f":1.08},{"s":2,"k":"o","g":1,"w":1031.68,"f":0.86},{"s":2,"k":"o","g":1,"w":1031.72,"f":0.53},{"s":2,"k":"o","g":1,"w":1031.76,"f":0.18},{"s":2,"k":"o","g":1,"w":1031.80,"f":0.13},{"s":2,"k":"o","g":1,"w":1031.84,"f":0.43},{"s":2,"k":"o","g":1,"w":1031.88,"f":0.93},{"s":2,"k":"o","g":1,"w":1031.92,"f":1.23},
      {"s":2,"k":"o","g":2,"w":1032.32,"f":1.33},{"s":2,"k":"o","g":2,"w":1032.36,"f":1.23},{"s":2,"k":"o","g":2,"w":1032.40,"f":1.40},{"s":2,"k":"o","g":2,"w":1032.44,"f":1.33},
      {"s":2,"k":"a","g":1,"w":1031.56,"f":1.13},{"s":2,"k":"a","g":1,"w":1031.64,"f":1.08},{"s":2,"k":"a","g":1,"w":1031.70,"f":0.93},{"s":2,"k":"a","g":1,"w":1031.75,"f":0.86},{"s":2,"k":"a","g":1,"w":1031.80,"f":0.93},{"s":2,"k":"a","g":1,"w":1031.86,"f":1.10},{"s":2,"k":"a","g":1,"w":1031.92,"f":1.15},
      {"s":2,"k":"a","g":2,"w":1032.32,"f":1.31},{"s":2,"k":"a","g":2,"w":1032.44,"f":1.32},
      {"s":2,"k":"b","g":1,"w":1031.56,"f":1.16},{"s":2,"k":"b","g":1,"w":1031.64,"f":0.98},{"s":2,"k":"b","g":1,"w":1031.70,"f":0.60},{"s":2,"k":"b","g":1,"w":1031.76,"f":0.35},{"s":2,"k":"b","g":1,"w":1031.82,"f":0.60},{"s":2,"k":"b","g":1,"w":1031.88,"f":0.95},{"s":2,"k":"b","g":1,"w":1031.92,"f":1.08},
      {"s":3,"k":"o","w":1031.40,"f":1.12},{"s":3,"k":"o","w":1031.44,"f":1.05},{"s":3,"k":"o","w":1031.48,"f":1.17},{"s":3,"k":"o","w":1031.52,"f":1.02},{"s":3,"k":"o","w":1031.56,"f":1.09},{"s":3,"k":"o","w":1031.60,"f":1.15},{"s":3,"k":"o","w":1031.64,"f":1.02},{"s":3,"k":"o","w":1031.68,"f":0.97},{"s":3,"k":"o","w":1031.72,"f":0.87},{"s":3,"k":"o","w":1031.76,"f":0.67},{"s":3,"k":"o","w":1031.80,"f":0.42},{"s":3,"k":"o","w":1031.84,"f":0.12},{"s":3,"k":"o","w":1031.88,"f":0.02},{"s":3,"k":"o","w":1031.92,"f":0.27},{"s":3,"k":"o","w":1031.96,"f":0.77},{"s":3,"k":"o","w":1032.00,"f":1.02},{"s":3,"k":"o","w":1032.04,"f":1.17},{"s":3,"k":"o","w":1032.08,"f":1.05},{"s":3,"k":"o","w":1032.12,"f":1.12},{"s":3,"k":"o","w":1032.16,"f":1.19},{"s":3,"k":"o","w":1032.20,"f":1.07},{"s":3,"k":"o","w":1032.24,"f":1.15},{"s":3,"k":"o","w":1032.28,"f":1.02},{"s":3,"k":"o","w":1032.32,"f":1.11},{"s":3,"k":"o","w":1032.36,"f":1.19},{"s":3,"k":"o","w":1032.40,"f":1.09},{"s":3,"k":"o","w":1032.44,"f":1.13},{"s":3,"k":"o","w":1032.48,"f":1.17},{"s":3,"k":"o","w":1032.52,"f":1.12},
      {"s":3,"k":"a","w":1031.40,"f":1.10},{"s":3,"k":"a","w":1031.70,"f":1.08},{"s":3,"k":"a","w":1031.80,"f":0.95},{"s":3,"k":"a","w":1031.86,"f":0.65},{"s":3,"k":"a","w":1031.90,"f":0.55},{"s":3,"k":"a","w":1031.94,"f":0.75},{"s":3,"k":"a","w":1032.00,"f":1.00},{"s":3,"k":"a","w":1032.10,"f":1.08},{"s":3,"k":"a","w":1032.52,"f":1.10},
      {"s":3,"k":"b","w":1031.40,"f":1.08},{"s":3,"k":"b","w":1031.75,"f":1.05},{"s":3,"k":"b","w":1031.83,"f":0.70},{"s":3,"k":"b","w":1031.89,"f":0.30},{"s":3,"k":"b","w":1031.95,"f":0.70},{"s":3,"k":"b","w":1032.02,"f":1.02},{"s":3,"k":"b","w":1032.52,"f":1.08}
    ],
    "SiIV": [
      {"s":1,"k":"L","w":1128.30},{"s":2,"k":"L","w":1128.30},{"s":3,"k":"L","w":1128.30},
      {"s":1,"k":"o","w":1128.41,"f":1.02},{"s":1,"k":"o","w":1128.44,"f":0.76},{"s":1,"k":"o","w":1128.47,"f":0.39},{"s":1,"k":"o","w":1128.50,"f":0.14},{"s":1,"k":"o","w":1128.53,"f":-0.06},{"s":1,"k":"o","w":1128.56,"f":-0.01},{"s":1,"k":"o","w":1128.59,"f":0.49},{"s":1,"k":"o","w":1128.62,"f":0.94},{"s":1,"k":"o","w":1128.65,"f":0.72},{"s":1,"k":"o","w":1128.68,"f":0.79},{"s":1,"k":"o","w":1128.71,"f":0.99},{"s":1,"k":"o","w":1128.74,"f":1.19},{"s":1,"k":"o","w":1128.77,"f":1.26},{"s":1,"k":"o","w":1128.80,"f":1.09},{"s":1,"k":"o","w":1128.83,"f":1.14},{"s":1,"k":"o","w":1128.86,"f":1.09},{"s":1,"k":"o","w":1128.89,"f":1.27},{"s":1,"k":"o","w":1128.92,"f":0.84},{"s":1,"k":"o","w":1128.95,"f":0.96},{"s":1,"k":"o","w":1128.98,"f":0.96},
      {"s":1,"k":"a","w":1128.42,"f":0.99},{"s":1,"k":"a","w":1128.44,"f":0.59},{"s":1,"k":"a","w":1128.49,"f":0.19},{"s":1,"k":"a","w":1128.53,"f":-0.06},{"s":1,"k":"a","w":1128.58,"f":0.19},{"s":1,"k":"a","w":1128.62,"f":0.52},{"s":1,"k":"a","w":1128.64,"f":0.76},{"s":1,"k":"a","w":1128.67,"f":0.69},{"s":1,"k":"a","w":1128.70,"f":0.84},{"s":1,"k":"a","w":1128.74,"f":1.19},{"s":1,"k":"a","w":1128.79,"f":1.26},{"s":1,"k":"a","w":1128.85,"f":1.27},{"s":1,"k":"a","w":1128.93,"f":1.31},{"s":1,"k":"a","w":1128.99,"f":1.32},
      {"s":1,"k":"b","w":1128.42,"f":0.64},{"s":1,"k":"b","w":1128.46,"f":0.49},{"s":1,"k":"b","w":1128.51,"f":0.14},{"s":1,"k":"b","w":1128.54,"f":-0.06},{"s":1,"k":"b","w":1128.57,"f":0.14},{"s":1,"k":"b","w":1128.61,"f":0.49},{"s":1,"k":"b","w":1128.64,"f":0.74},{"s":1,"k":"b","w":1128.68,"f":0.79},{"s":1,"k":"b","w":1128.72,"f":1.04},{"s":1,"k":"b","w":1128.77,"f":1.21},{"s":1,"k":"b","w":1128.85,"f":1.27},{"s":1,"k":"b","w":1128.93,"f":1.29},{"s":1,"k":"b","w":1128.99,"f":1.31},
      {"s":2,"k":"o","w":1128.04,"f":0.48},{"s":2,"k":"o","w":1128.07,"f":0.23},{"s":2,"k":"o","w":1128.10,"f":0.03},{"s":2,"k":"o","w":1128.13,"f":0.28},{"s":2,"k":"o","w":1128.16,"f":0.03},{"s":2,"k":"o","w":1128.19,"f":0.48},{"s":2,"k":"o","w":1128.22,"f":0.78},{"s":2,"k":"o","w":1128.25,"f":0.53},{"s":2,"k":"o","w":1128.28,"f":0.93},{"s":2,"k":"o","w":1128.31,"f":1.03},{"s":2,"k":"o","w":1128.34,"f":1.00},{"s":2,"k":"o","w":1128.37,"f":1.11},{"s":2,"k":"o","w":1128.40,"f":1.12},
      {"s":2,"k":"a","w":1128.04,"f":0.45},{"s":2,"k":"a","w":1128.08,"f":0.25},{"s":2,"k":"a","w":1128.10,"f":0.02},{"s":2,"k":"a","w":1128.13,"f":0.20},{"s":2,"k":"a","w":1128.17,"f":0.50},{"s":2,"k":"a","w":1128.22,"f":0.70},{"s":2,"k":"a","w":1128.27,"f":0.85},{"s":2,"k":"a","w":1128.32,"f":0.98},{"s":2,"k":"a","w":1128.40,"f":1.08},
      {"s":2,"k":"b","w":1128.04,"f":0.50},{"s":2,"k":"b","w":1128.08,"f":0.20},{"s":2,"k":"b","w":1128.11,"f":0.01},{"s":2,"k":"b","w":1128.14,"f":0.30},{"s":2,"k":"b","w":1128.18,"f":0.50},{"s":2,"k":"b","w":1128.23,"f":0.60},{"s":2,"k":"b","w":1128.27,"f":0.90},{"s":2,"k":"b","w":1128.33,"f":1.03},
      {"s":3,"k":"o","w":1127.99,"f":0.87},{"s":3,"k":"o","w":1128.03,"f":0.97},{"s":3,"k":"o","w":1128.07,"f":0.77},{"s":3,"k":"o","w":1128.11,"f":0.72},{"s":3,"k":"o","w":1128.15,"f":0.52},{"s":3,"k":"o","w":1128.19,"f":0.37},{"s":3,"k":"o","w":1128.23,"f":0.57},{"s":3,"k":"o","w":1128.27,"f":0.82},{"s":3,"k":"o","w":1128.31,"f":1.12},{"s":3,"k":"o","w":1128.35,"f":0.97},{"s":3,"k":"o","w":1128.39,"f":1.37},{"s":3,"k":"o","w":1128.43,"f":1.02},{"s":3,"k":"o","w":1128.47,"f":0.87},{"s":3,"k":"o","w":1128.51,"f":1.12},{"s":3,"k":"o","w":1128.55,"f":0.77},{"s":3,"k":"o","w":1128.59,"f":1.02},{"s":3,"k":"o","w":1128.63,"f":1.27},{"s":3,"k":"o","w":1128.67,"f":0.92},{"s":3,"k":"o","w":1128.71,"f":1.07},{"s":3,"k":"o","w":1128.75,"f":0.82},{"s":3,"k":"o","w":1128.79,"f":0.97},{"s":3,"k":"o","w":1128.83,"f":1.17},{"s":3,"k":"o","w":1128.87,"f":0.87},{"s":3,"k":"o","w":1128.91,"f":1.05},{"s":3,"k":"o","w":1128.95,"f":0.97},{"s":3,"k":"o","w":1128.99,"f":1.12},
      {"s":3,"k":"a","w":1127.99,"f":0.92},{"s":3,"k":"a","w":1128.08,"f":0.88},{"s":3,"k":"a","w":1128.14,"f":0.75},{"s":3,"k":"a","w":1128.18,"f":0.65},{"s":3,"k":"a","w":1128.22,"f":0.72},{"s":3,"k":"a","w":1128.27,"f":0.85},{"s":3,"k":"a","w":1128.33,"f":0.90},{"s":3,"k":"a","w":1129.00,"f":0.90},
      {"s":3,"k":"b","w":1127.99,"f":0.93},{"s":3,"k":"b","w":1128.10,"f":0.85},{"s":3,"k":"b","w":1128.17,"f":0.62},{"s":3,"k":"b","w":1128.22,"f":0.75},{"s":3,"k":"b","w":1128.30,"f":0.90},{"s":3,"k":"b","w":1129.00,"f":0.90}
    ],
    "FeVI": [
      {"s":1,"k":"L","w":1165.11},{"s":1,"k":"L","w":1165.71},{"s":1,"k":"L","w":1166.19},
      {"s":2,"k":"L","w":1165.11},{"s":2,"k":"L","w":1165.71},{"s":2,"k":"L","w":1166.19},
      {"s":3,"k":"L","w":1165.11},{"s":3,"k":"L","w":1165.71},{"s":3,"k":"L","w":1166.19},
      {"s":1,"k":"o","w":1165.04,"f":1.26},{"s":1,"k":"o","w":1165.08,"f":0.92},{"s":1,"k":"o","w":1165.12,"f":1.22},{"s":1,"k":"o","w":1165.16,"f":1.09},{"s":1,"k":"o","w":1165.20,"f":1.16},{"s":1,"k":"o","w":1165.24,"f":0.96},{"s":1,"k":"o","w":1165.28,"f":0.94},{"s":1,"k":"o","w":1165.32,"f":0.99},{"s":1,"k":"o","w":1165.36,"f":0.79},{"s":1,"k":"o","w":1165.40,"f":0.94},{"s":1,"k":"o","w":1165.44,"f":1.14},{"s":1,"k":"o","w":1165.48,"f":1.21},{"s":1,"k":"o","w":1165.52,"f":0.86},{"s":1,"k":"o","w":1165.56,"f":1.04},{"s":1,"k":"o","w":1165.60,"f":0.39},{"s":1,"k":"o","w":1165.64,"f":0.64},{"s":1,"k":"o","w":1165.68,"f":0.49},{"s":1,"k":"o","w":1165.72,"f":0.64},{"s":1,"k":"o","w":1165.76,"f":1.16},{"s":1,"k":"o","w":1165.80,"f":1.22},{"s":1,"k":"o","w":1165.84,"f":0.92},{"s":1,"k":"o","w":1165.88,"f":0.76},{"s":1,"k":"o","w":1165.92,"f":0.62},{"s":1,"k":"o","w":1165.96,"f":0.82},{"s":1,"k":"o","w":1166.00,"f":1.02},{"s":1,"k":"o","w":1166.04,"f":1.16},{"s":1,"k":"o","w":1166.08,"f":0.94},{"s":1,"k":"o","w":1166.12,"f":1.11},{"s":1,"k":"o","w":1166.16,"f":1.16},{"s":1,"k":"o","w":1166.20,"f":1.06},{"s":1,"k":"o","w":1166.24,"f":0.84},{"s":1,"k":"o","w":1166.28,"f":0.64},{"s":1,"k":"o","w":1166.32,"f":0.39},{"s":1,"k":"o","w":1166.36,"f":0.12},{"s":1,"k":"o","w":1166.40,"f":0.39},{"s":1,"k":"o","w":1166.44,"f":0.72},{"s":1,"k":"o","w":1166.48,"f":0.99},{"s":1,"k":"o","w":1166.52,"f":1.22},{"s":1,"k":"o","w":1166.56,"f":1.26},{"s":1,"k":"o","w":1166.60,"f":0.94},{"s":1,"k":"o","w":1166.64,"f":0.79},{"s":1,"k":"o","w":1166.68,"f":1.16},{"s":1,"k":"o","w":1166.72,"f":1.04},{"s":1,"k":"o","w":1166.76,"f":0.82},{"s":1,"k":"o","w":1166.80,"f":0.79},{"s":1,"k":"o","w":1166.84,"f":1.04},{"s":1,"k":"o","w":1166.88,"f":1.24},{"s":1,"k":"o","w":1166.92,"f":1.31},{"s":1,"k":"o","w":1166.96,"f":1.09},
      {"s":1,"k":"a","w":1165.04,"f":0.91},{"s":1,"k":"a","w":1165.30,"f":0.91},{"s":1,"k":"a","w":1165.35,"f":0.84},{"s":1,"k":"a","w":1165.40,"f":0.91},{"s":1,"k":"a","w":1165.78,"f":0.90},{"s":1,"k":"a","w":1165.84,"f":0.80},{"s":1,"k":"a","w":1165.87,"f":0.50},{"s":1,"k":"a","w":1165.89,"f":0.32},{"s":1,"k":"a","w":1165.91,"f":0.50},{"s":1,"k":"a","w":1165.94,"f":0.85},{"s":1,"k":"a","w":1165.98,"f":0.95},{"s":1,"k":"a","w":1166.30,"f":0.96},{"s":1,"k":"a","w":1166.33,"f":0.93},{"s":1,"k":"a","w":1166.36,"f":0.60},{"s":1,"k":"a","w":1166.39,"f":0.29},{"s":1,"k":"a","w":1166.42,"f":0.55},{"s":1,"k":"a","w":1166.45,"f":0.85},{"s":1,"k":"a","w":1166.50,"f":0.96},{"s":1,"k":"a","w":1167.00,"f":0.96},
      {"s":1,"k":"b","w":1165.04,"f":0.90},{"s":1,"k":"b","w":1165.30,"f":0.90},{"s":1,"k":"b","w":1165.36,"f":0.80},{"s":1,"k":"b","w":1165.42,"f":0.90},{"s":1,"k":"b","w":1165.80,"f":0.89},{"s":1,"k":"b","w":1165.85,"f":0.70},{"s":1,"k":"b","w":1165.89,"f":0.40},{"s":1,"k":"b","w":1165.93,"f":0.75},{"s":1,"k":"b","w":1165.99,"f":0.82},{"s":1,"k":"b","w":1166.04,"f":0.90},{"s":1,"k":"b","w":1166.30,"f":0.94},{"s":1,"k":"b","w":1166.35,"f":0.75},{"s":1,"k":"b","w":1166.39,"f":0.40},{"s":1,"k":"b","w":1166.43,"f":0.70},{"s":1,"k":"b","w":1166.48,"f":0.90},{"s":1,"k":"b","w":1166.52,"f":0.86},{"s":1,"k":"b","w":1166.56,"f":0.84},{"s":1,"k":"b","w":1166.62,"f":0.94},{"s":1,"k":"b","w":1166.72,"f":0.90},{"s":1,"k":"b","w":1166.79,"f":0.77},{"s":1,"k":"b","w":1166.84,"f":0.92},{"s":1,"k":"b","w":1166.92,"f":0.95},{"s":1,"k":"b","w":1166.98,"f":0.89},
      {"s":2,"k":"o","w":1165.04,"f":1.18},{"s":2,"k":"o","w":1165.08,"f":0.86},{"s":2,"k":"o","w":1165.12,"f":1.08},{"s":2,"k":"o","w":1165.16,"f":0.78},{"s":2,"k":"o","w":1165.20,"f":0.98},{"s":2,"k":"o","w":1165.24,"f":1.10},{"s":2,"k":"o","w":1165.28,"f":0.83},{"s":2,"k":"o","w":1165.32,"f":1.00},{"s":2,"k":"o","w":1165.36,"f":0.76},{"s":2,"k":"o","w":1165.40,"f":0.58},{"s":2,"k":"o","w":1165.44,"f":0.38},{"s":2,"k":"o","w":1165.48,"f":0.68},{"s":2,"k":"o","w":1165.52,"f":1.08},{"s":2,"k":"o","w":1165.56,"f":0.86},{"s":2,"k":"o","w":1165.60,"f":1.16},{"s":2,"k":"o","w":1165.64,"f":0.93},{"s":2,"k":"o","w":1165.68,"f":0.78},{"s":2,"k":"o","w":1165.72,"f":1.03},{"s":2,"k":"o","w":1165.76,"f":0.90},{"s":2,"k":"o","w":1165.80,"f":1.13},{"s":2,"k":"o","w":1165.84,"f":0.86},{"s":2,"k":"o","w":1165.88,"f":0.66},{"s":2,"k":"o","w":1165.92,"f":0.53},{"s":2,"k":"o","w":1165.96,"f":0.80},{"s":2,"k":"o","w":1166.00,"f":1.08},{"s":2,"k":"o","w":1166.04,"f":0.88},{"s":2,"k":"o","w":1166.08,"f":1.18},{"s":2,"k":"o","w":1166.12,"f":0.93},{"s":2,"k":"o","w":1166.16,"f":0.76},{"s":2,"k":"o","w":1166.20,"f":1.00},{"s":2,"k":"o","w":1166.24,"f":1.12},{"s":2,"k":"o","w":1166.28,"f":0.83},{"s":2,"k":"o","w":1166.32,"f":0.98},{"s":2,"k":"o","w":1166.36,"f":0.73},{"s":2,"k":"o","w":1166.40,"f":1.06},{"s":2,"k":"o","w":1166.44,"f":1.20},{"s":2,"k":"o","w":1166.48,"f":0.86},{"s":2,"k":"o","w":1166.52,"f":1.03},{"s":2,"k":"o","w":1166.56,"f":0.80},{"s":2,"k":"o","w":1166.60,"f":1.08},{"s":2,"k":"o","w":1166.64,"f":1.22},{"s":2,"k":"o","w":1166.68,"f":0.90},{"s":2,"k":"o","w":1166.72,"f":1.06},{"s":2,"k":"o","w":1166.76,"f":0.78},{"s":2,"k":"o","w":1166.80,"f":0.98},{"s":2,"k":"o","w":1166.84,"f":1.16},{"s":2,"k":"o","w":1166.88,"f":0.88},{"s":2,"k":"o","w":1166.92,"f":1.02},{"s":2,"k":"o","w":1166.96,"f":0.86},
      {"s":2,"k":"a","w":1165.04,"f":0.90},{"s":2,"k":"a","w":1165.35,"f":0.90},{"s":2,"k":"a","w":1165.40,"f":0.80},{"s":2,"k":"a","w":1165.43,"f":0.50},{"s":2,"k":"a","w":1165.46,"f":0.38},{"s":2,"k":"a","w":1165.49,"f":0.55},{"s":2,"k":"a","w":1165.53,"f":0.85},{"s":2,"k":"a","w":1165.58,"f":0.90},{"s":2,"k":"a","w":1165.85,"f":0.90},{"s":2,"k":"a","w":1165.89,"f":0.78},{"s":2,"k":"a","w":1165.92,"f":0.60},{"s":2,"k":"a","w":1165.95,"f":0.53},{"s":2,"k":"a","w":1165.98,"f":0.70},{"s":2,"k":"a","w":1166.02,"f":0.85},{"s":2,"k":"a","w":1166.07,"f":0.88},{"s":2,"k":"a","w":1166.50,"f":0.88},{"s":2,"k":"a","w":1166.70,"f":0.87},{"s":2,"k":"a","w":1167.00,"f":0.88},
      {"s":2,"k":"b","w":1165.04,"f":0.89},{"s":2,"k":"b","w":1165.40,"f":0.82},{"s":2,"k":"b","w":1165.46,"f":0.42},{"s":2,"k":"b","w":1165.52,"f":0.82},{"s":2,"k":"b","w":1165.90,"f":0.70},{"s":2,"k":"b","w":1165.95,"f":0.56},{"s":2,"k":"b","w":1166.00,"f":0.82},{"s":2,"k":"b","w":1166.40,"f":0.86},{"s":2,"k":"b","w":1167.00,"f":0.86},
      {"s":3,"k":"o","w":1165.04,"f":0.67},{"s":3,"k":"o","w":1165.08,"f":1.25},{"s":3,"k":"o","w":1165.12,"f":0.77},{"s":3,"k":"o","w":1165.16,"f":0.92},{"s":3,"k":"o","w":1165.20,"f":0.67},{"s":3,"k":"o","w":1165.24,"f":1.02},{"s":3,"k":"o","w":1165.28,"f":0.82},{"s":3,"k":"o","w":1165.32,"f":0.72},{"s":3,"k":"o","w":1165.36,"f":0.92},{"s":3,"k":"o","w":1165.40,"f":0.77},{"s":3,"k":"o","w":1165.44,"f":0.57},{"s":3,"k":"o","w":1165.48,"f":0.72},{"s":3,"k":"o","w":1165.52,"f":0.87},{"s":3,"k":"o","w":1165.56,"f":0.69},{"s":3,"k":"o","w":1165.60,"f":0.97},{"s":3,"k":"o","w":1165.64,"f":0.79},{"s":3,"k":"o","w":1165.68,"f":0.65},{"s":3,"k":"o","w":1165.72,"f":0.87},{"s":3,"k":"o","w":1165.76,"f":0.72},{"s":3,"k":"o","w":1165.80,"f":0.92},{"s":3,"k":"o","w":1165.84,"f":0.67},{"s":3,"k":"o","w":1165.88,"f":0.49},{"s":3,"k":"o","w":1165.92,"f":0.35},{"s":3,"k":"o","w":1165.96,"f":0.57},{"s":3,"k":"o","w":1166.00,"f":0.79},{"s":3,"k":"o","w":1166.04,"f":0.97},{"s":3,"k":"o","w":1166.08,"f":0.72},{"s":3,"k":"o","w":1166.12,"f":0.87},{"s":3,"k":"o","w":1166.16,"f":1.07},{"s":3,"k":"o","w":1166.20,"f":0.77},{"s":3,"k":"o","w":1166.24,"f":0.67},{"s":3,"k":"o","w":1166.28,"f":0.92},{"s":3,"k":"o","w":1166.32,"f":0.72},{"s":3,"k":"o","w":1166.36,"f":0.85},{"s":3,"k":"o","w":1166.40,"f":0.99},{"s":3,"k":"o","w":1166.44,"f":0.72},{"s":3,"k":"o","w":1166.48,"f":0.82},{"s":3,"k":"o","w":1166.52,"f":1.02},{"s":3,"k":"o","w":1166.56,"f":0.69},{"s":3,"k":"o","w":1166.60,"f":0.87},{"s":3,"k":"o","w":1166.64,"f":0.77},{"s":3,"k":"o","w":1166.68,"f":0.95},{"s":3,"k":"o","w":1166.72,"f":0.67},{"s":3,"k":"o","w":1166.76,"f":0.82},{"s":3,"k":"o","w":1166.80,"f":0.99},{"s":3,"k":"o","w":1166.84,"f":0.72},{"s":3,"k":"o","w":1166.88,"f":0.87},{"s":3,"k":"o","w":1166.92,"f":0.75},{"s":3,"k":"o","w":1166.96,"f":0.92},
      {"s":3,"k":"a","w":1165.04,"f":0.75},{"s":3,"k":"a","w":1165.40,"f":0.75},{"s":3,"k":"a","w":1165.46,"f":0.68},{"s":3,"k":"a","w":1165.52,"f":0.75},{"s":3,"k":"a","w":1165.84,"f":0.75},{"s":3,"k":"a","w":1165.89,"f":0.55},{"s":3,"k":"a","w":1165.93,"f":0.42},{"s":3,"k":"a","w":1165.97,"f":0.58},{"s":3,"k":"a","w":1166.02,"f":0.75},{"s":3,"k":"a","w":1167.00,"f":0.74},
      {"s":3,"k":"b","w":1165.04,"f":0.74},{"s":3,"k":"b","w":1165.45,"f":0.72},{"s":3,"k":"b","w":1165.88,"f":0.70},{"s":3,"k":"b","w":1165.93,"f":0.55},{"s":3,"k":"b","w":1165.98,"f":0.72},{"s":3,"k":"b","w":1167.00,"f":0.73}
    ],
    "NiV": [
      {"s":1,"k":"L","w":1178.89},{"s":2,"k":"L","w":1178.89},{"s":3,"k":"L","w":1178.89},
      {"s":1,"k":"o","w":1178.00,"f":0.12},{"s":1,"k":"o","w":1178.05,"f":0.59},{"s":1,"k":"o","w":1178.10,"f":0.39},{"s":1,"k":"o","w":1178.15,"f":0.59},{"s":1,"k":"o","w":1178.20,"f":0.26},{"s":1,"k":"o","w":1178.25,"f":0.72},{"s":1,"k":"o","w":1178.30,"f":0.49},{"s":1,"k":"o","w":1178.35,"f":0.79},{"s":1,"k":"o","w":1178.40,"f":0.64},{"s":1,"k":"o","w":1178.45,"f":0.89},{"s":1,"k":"o","w":1178.50,"f":0.64},{"s":1,"k":"o","w":1178.55,"f":0.82},{"s":1,"k":"o","w":1178.60,"f":0.72},{"s":1,"k":"o","w":1178.65,"f":0.89},{"s":1,"k":"o","w":1178.70,"f":0.54},{"s":1,"k":"o","w":1178.75,"f":0.34},{"s":1,"k":"o","w":1178.80,"f":0.87},{"s":1,"k":"o","w":1178.85,"f":0.79},{"s":1,"k":"o","w":1178.90,"f":0.46},{"s":1,"k":"o","w":1178.95,"f":1.09},{"s":1,"k":"o","w":1179.00,"f":0.66},{"s":1,"k":"o","w":1179.05,"f":0.92},{"s":1,"k":"o","w":1179.10,"f":1.12},{"s":1,"k":"o","w":1179.15,"f":0.69},{"s":1,"k":"o","w":1179.20,"f":1.24},{"s":1,"k":"o","w":1179.25,"f":0.66},{"s":1,"k":"o","w":1179.30,"f":1.09},{"s":1,"k":"o","w":1179.35,"f":0.79},{"s":1,"k":"o","w":1179.40,"f":1.02},{"s":1,"k":"o","w":1179.45,"f":0.62},{"s":1,"k":"o","w":1179.50,"f":1.32},{"s":1,"k":"o","w":1179.55,"f":0.56},{"s":1,"k":"o","w":1179.60,"f":1.26},
      {"s":1,"k":"a","w":1178.00,"f":0.68},{"s":1,"k":"a","w":1178.40,"f":0.70},{"s":1,"k":"a","w":1178.80,"f":0.71},{"s":1,"k":"a","w":1179.20,"f":0.70},{"s":1,"k":"a","w":1179.60,"f":0.70},
      {"s":1,"k":"b","w":1178.00,"f":0.69},{"s":1,"k":"b","w":1178.60,"f":0.70},{"s":1,"k":"b","w":1179.08,"f":0.70},{"s":1,"k":"b","w":1179.13,"f":0.62},{"s":1,"k":"b","w":1179.18,"f":0.70},{"s":1,"k":"b","w":1179.60,"f":0.69},
      {"s":2,"k":"o","w":1178.00,"f":0.93},{"s":2,"k":"o","w":1178.05,"f":0.58},{"s":2,"k":"o","w":1178.10,"f":0.86},{"s":2,"k":"o","w":1178.15,"f":1.08},{"s":2,"k":"o","w":1178.20,"f":0.63},{"s":2,"k":"o","w":1178.25,"f":0.78},{"s":2,"k":"o","w":1178.30,"f":0.48},{"s":2,"k":"o","w":1178.35,"f":0.83},{"s":2,"k":"o","w":1178.40,"f":1.03},{"s":2,"k":"o","w":1178.45,"f":0.68},{"s":2,"k":"o","w":1178.50,"f":0.53},{"s":2,"k":"o","w":1178.55,"f":0.88},{"s":2,"k":"o","w":1178.60,"f":0.65},{"s":2,"k":"o","w":1178.65,"f":0.98},{"s":2,"k":"o","w":1178.70,"f":0.73},{"s":2,"k":"o","w":1178.75,"f":0.48},{"s":2,"k":"o","w":1178.80,"f":0.83},{"s":2,"k":"o","w":1178.85,"f":1.08},{"s":2,"k":"o","w":1178.90,"f":0.58},{"s":2,"k":"o","w":1178.95,"f":0.73},{"s":2,"k":"o","w":1179.00,"f":0.53},{"s":2,"k":"o","w":1179.05,"f":0.28},{"s":2,"k":"o","w":1179.10,"f":0.48},{"s":2,"k":"o","w":1179.15,"f":0.86},{"s":2,"k":"o","w":1179.20,"f":1.03},{"s":2,"k":"o","w":1179.25,"f":0.68},{"s":2,"k":"o","w":1179.30,"f":0.48},{"s":2,"k":"o","w":1179.35,"f":0.90},{"s":2,"k":"o","w":1179.40,"f":1.13},{"s":2,"k":"o","w":1179.45,"f":0.78},{"s":2,"k":"o","w":1179.50,"f":0.53},{"s":2,"k":"o","w":1179.55,"f":0.80},{"s":2,"k":"o","w":1179.60,"f":0.98},{"s":2,"k":"o","w":1179.65,"f":0.63},{"s":2,"k":"o","w":1179.70,"f":0.48},{"s":2,"k":"o","w":1179.75,"f":0.78},{"s":2,"k":"o","w":1179.80,"f":0.93},{"s":2,"k":"o","w":1179.85,"f":0.58},{"s":2,"k":"o","w":1179.90,"f":0.68},{"s":2,"k":"o","w":1179.95,"f":0.38},{"s":2,"k":"o","w":1180.00,"f":0.48},
      {"s":2,"k":"a","w":1178.00,"f":0.66},{"s":2,"k":"a","w":1178.30,"f":0.65},{"s":2,"k":"a","w":1178.60,"f":0.67},{"s":2,"k":"a","w":1178.95,"f":0.66},{"s":2,"k":"a","w":1179.03,"f":0.55},{"s":2,"k":"a","w":1179.07,"f":0.33},{"s":2,"k":"a","w":1179.11,"f":0.55},{"s":2,"k":"a","w":1179.18,"f":0.66},{"s":2,"k":"a","w":1179.50,"f":0.66},{"s":2,"k":"a","w":1179.75,"f":0.63},{"s":2,"k":"a","w":1180.00,"f":0.65},
      {"s":2,"k":"b","w":1178.00,"f":0.67},{"s":2,"k":"b","w":1178.50,"f":0.66},{"s":2,"k":"b","w":1179.00,"f":0.65},{"s":2,"k":"b","w":1179.07,"f":0.40},{"s":2,"k":"b","w":1179.14,"f":0.64},{"s":2,"k":"b","w":1180.00,"f":0.64},
      {"s":3,"k":"o","w":1178.00,"f":1.02},{"s":3,"k":"o","w":1178.05,"f":0.57},{"s":3,"k":"o","w":1178.10,"f":0.77},{"s":3,"k":"o","w":1178.15,"f":0.42},{"s":3,"k":"o","w":1178.20,"f":0.87},{"s":3,"k":"o","w":1178.25,"f":0.52},{"s":3,"k":"o","w":1178.30,"f":0.27},{"s":3,"k":"o","w":1178.35,"f":0.67},{"s":3,"k":"o","w":1178.40,"f":0.82},{"s":3,"k":"o","w":1178.45,"f":0.37},{"s":3,"k":"o","w":1178.50,"f":0.57},{"s":3,"k":"o","w":1178.55,"f":0.27},{"s":3,"k":"o","w":1178.60,"f":0.72},{"s":3,"k":"o","w":1178.65,"f":0.52},{"s":3,"k":"o","w":1178.70,"f":0.97},{"s":3,"k":"o","w":1178.75,"f":0.67},{"s":3,"k":"o","w":1178.80,"f":0.42},{"s":3,"k":"o","w":1178.85,"f":0.82},{"s":3,"k":"o","w":1178.90,"f":0.52},{"s":3,"k":"o","w":1178.95,"f":0.72},{"s":3,"k":"o","w":1179.00,"f":1.02},{"s":3,"k":"o","w":1179.05,"f":0.62},{"s":3,"k":"o","w":1179.10,"f":0.87},{"s":3,"k":"o","w":1179.15,"f":0.57},{"s":3,"k":"o","w":1179.20,"f":1.12},{"s":3,"k":"o","w":1179.25,"f":0.77},{"s":3,"k":"o","w":1179.30,"f":0.97},{"s":3,"k":"o","w":1179.35,"f":0.62},{"s":3,"k":"o","w":1179.40,"f":0.87},{"s":3,"k":"o","w":1179.45,"f":1.17},{"s":3,"k":"o","w":1179.50,"f":0.77},{"s":3,"k":"o","w":1179.55,"f":0.52},{"s":3,"k":"o","w":1179.60,"f":0.92},{"s":3,"k":"o","w":1179.65,"f":0.67},{"s":3,"k":"o","w":1179.70,"f":1.07},{"s":3,"k":"o","w":1179.75,"f":0.57},{"s":3,"k":"o","w":1179.80,"f":0.42},{"s":3,"k":"o","w":1179.85,"f":0.72},{"s":3,"k":"o","w":1179.90,"f":0.37},{"s":3,"k":"o","w":1179.95,"f":0.52},{"s":3,"k":"o","w":1180.00,"f":0.17},
      {"s":3,"k":"a","w":1178.00,"f":0.65},{"s":3,"k":"a","w":1178.50,"f":0.64},{"s":3,"k":"a","w":1179.00,"f":0.64},{"s":3,"k":"a","w":1179.50,"f":0.63},{"s":3,"k":"a","w":1180.00,"f":0.63},
      {"s":3,"k":"b","w":1178.00,"f":0.64},{"s":3,"k":"b","w":1179.00,"f":0.64},{"s":3,"k":"b","w":1180.00,"f":0.62}
    ]
  },
  "vconcat": [
    {
      "spacing": 0,
      "bounds": "flush",
      "hconcat": [
        {"data": {"name": "CIV"}, "transform": [{"filter": "datum.s == 1"}], "title": "CIV", "width": 154, "height": 149,
         "encoding": {"x": {"field": "w", "type": "quantitative", "title": null, "scale": {"domain": [1107, 1108.19], "nice": false, "zero": false}, "axis": {"values": [1107, 1108], "labels": false}},
                      "y": {"field": "f", "type": "quantitative", "scale": {"domain": [0, 1.49], "nice": false, "zero": false}, "axis": {"title": ["HS 0505", "+0112"], "labels": false, "ticks": false, "domain": false, "grid": false, "titlePadding": 14, "titleLineHeight": 31}},
                      "detail": {"field": "g", "type": "nominal"}},
         "layer": [
           {"transform": [{"filter": "datum.k == 'L'"}], "mark": "rule", "encoding": {"y": {"datum": 0}, "y2": {"datum": 1.49}}},
           {"transform": [{"filter": "datum.k == 'o'"}], "mark": {"type": "line", "interpolate": "step", "color": "#6f6f6f", "strokeWidth": 1.8, "clip": true}, "encoding": {}},
           {"transform": [{"filter": "datum.k == 'a'"}], "mark": {"type": "line", "clip": true}, "encoding": {}},
           {"transform": [{"filter": "datum.k == 'b'"}], "mark": {"type": "line", "strokeDash": [9, 6], "clip": true}, "encoding": {}}
         ]},
        {"data": {"name": "NIV"}, "transform": [{"filter": "datum.s == 1"}], "title": "NIV", "width": 154, "height": 149,
         "encoding": {"x": {"field": "w", "type": "quantitative", "title": null, "scale": {"domain": [922.01, 924.01], "nice": false, "zero": false}, "axis": {"values": [923, 924], "labels": false}},
                      "y": {"field": "f", "type": "quantitative", "scale": {"domain": [0, 1.49], "nice": false, "zero": false}, "axis": null},
                      "detail": {"field": "g", "type": "nominal"}},
         "layer": [
           {"transform": [{"filter": "datum.k == 'L'"}], "mark": "rule", "encoding": {"y": {"datum": 0}, "y2": {"datum": 1.49}}},
           {"transform": [{"filter": "datum.k == 'o'"}], "mark": {"type": "line", "interpolate": "step", "color": "#6f6f6f", "strokeWidth": 1.8, "clip": true}, "encoding": {}},
           {"transform": [{"filter": "datum.k == 'a'"}], "mark": {"type": "line", "clip": true}, "encoding": {}},
           {"transform": [{"filter": "datum.k == 'b'"}], "mark": {"type": "line", "strokeDash": [9, 6], "clip": true}, "encoding": {}}
         ]},
        {"data": {"name": "OIV"}, "transform": [{"filter": "datum.s == 1"}], "title": "OIV", "width": 154, "height": 149,
         "encoding": {"x": {"field": "w", "type": "quantitative", "title": null, "scale": {"domain": [1067.01, 1069.0], "nice": false, "zero": false}, "axis": {"values": [1068, 1069], "labels": false}},
                      "y": {"field": "f", "type": "quantitative", "scale": {"domain": [0, 1.49], "nice": false, "zero": false}, "axis": null},
                      "detail": {"field": "g", "type": "nominal"}},
         "layer": [
           {"transform": [{"filter": "datum.k == 'L'"}], "mark": "rule", "encoding": {"y": {"datum": 0}, "y2": {"datum": 1.49}}},
           {"transform": [{"filter": "datum.k == 'o'"}], "mark": {"type": "line", "interpolate": "step", "color": "#6f6f6f", "strokeWidth": 1.8, "clip": true}, "encoding": {}},
           {"transform": [{"filter": "datum.k == 'a'"}], "mark": {"type": "line", "clip": true}, "encoding": {}},
           {"transform": [{"filter": "datum.k == 'b'"}], "mark": {"type": "line", "strokeDash": [9, 6], "clip": true}, "encoding": {}}
         ]},
        {"data": {"name": "OVI"}, "transform": [{"filter": "datum.s == 1"}], "title": "OVI", "width": 154, "height": 149,
         "encoding": {"x": {"field": "w", "type": "quantitative", "title": null, "scale": {"domain": [1030.97, 1033.2], "nice": false, "zero": false}, "axis": {"values": [1032, 1033], "labels": false}},
                      "y": {"field": "f", "type": "quantitative", "scale": {"domain": [0, 1.49], "nice": false, "zero": false}, "axis": null},
                      "detail": {"field": "g", "type": "nominal"}},
         "layer": [
           {"transform": [{"filter": "datum.k == 'L'"}], "mark": "rule", "encoding": {"y": {"datum": 0}, "y2": {"datum": 1.49}}},
           {"transform": [{"filter": "datum.k == 'o'"}], "mark": {"type": "line", "interpolate": "step", "color": "#6f6f6f", "strokeWidth": 1.8, "clip": true}, "encoding": {}},
           {"transform": [{"filter": "datum.k == 'a'"}], "mark": {"type": "line", "clip": true}, "encoding": {}},
           {"transform": [{"filter": "datum.k == 'b'"}], "mark": {"type": "line", "strokeDash": [9, 6], "clip": true}, "encoding": {}}
         ]},
        {"data": {"name": "SiIV"}, "transform": [{"filter": "datum.s == 1"}], "title": "SiIV", "width": 154, "height": 149,
         "encoding": {"x": {"field": "w", "type": "quantitative", "title": null, "scale": {"domain": [1127.4, 1129.0], "nice": false, "zero": false}, "axis": {"values": [1128, 1129], "labels": false}},
                      "y": {"field": "f", "type": "quantitative", "scale": {"domain": [0, 1.49], "nice": false, "zero": false}, "axis": null},
                      "detail": {"field": "g", "type": "nominal"}},
         "layer": [
           {"transform": [{"filter": "datum.k == 'L'"}], "mark": "rule", "encoding": {"y": {"datum": 0}, "y2": {"datum": 1.49}}},
           {"transform": [{"filter": "datum.k == 'o'"}], "mark": {"type": "line", "interpolate": "step", "color": "#6f6f6f", "strokeWidth": 1.8, "clip": true}, "encoding": {}},
           {"transform": [{"filter": "datum.k == 'a'"}], "mark": {"type": "line", "clip": true}, "encoding": {}},
           {"transform": [{"filter": "datum.k == 'b'"}], "mark": {"type": "line", "strokeDash": [9, 6], "clip": true}, "encoding": {}}
         ]},
        {"data": {"name": "FeVI"}, "transform": [{"filter": "datum.s == 1"}], "title": "FeVI/VII", "width": 154, "height": 149,
         "encoding": {"x": {"field": "w", "type": "quantitative", "title": null, "scale": {"domain": [1165.03, 1167.0], "nice": false, "zero": false}, "axis": {"values": [1166, 1167], "labels": false}},
                      "y": {"field": "f", "type": "quantitative", "scale": {"domain": [0, 1.49], "nice": false, "zero": false}, "axis": null},
                      "detail": {"field": "g", "type": "nominal"}},
         "layer": [
           {"transform": [{"filter": "datum.k == 'L'"}], "mark": "rule", "encoding": {"y": {"datum": 0}, "y2": {"datum": 1.49}}},
           {"transform": [{"filter": "datum.k == 'o'"}], "mark": {"type": "line", "interpolate": "step", "color": "#6f6f6f", "strokeWidth": 1.8, "clip": true}, "encoding": {}},
           {"transform": [{"filter": "datum.k == 'a'"}], "mark": {"type": "line", "clip": true}, "encoding": {}},
           {"transform": [{"filter": "datum.k == 'b'"}], "mark": {"type": "line", "strokeDash": [9, 6], "clip": true}, "encoding": {}}
         ]},
        {"data": {"name": "NiV"}, "transform": [{"filter": "datum.s == 1"}], "title": "NiV", "width": 154, "height": 149,
         "encoding": {"x": {"field": "w", "type": "quantitative", "title": null, "scale": {"domain": [1178.0, 1180.0], "nice": false, "zero": false}, "axis": {"values": [1179, 1180], "labels": false}},
                      "y": {"field": "f", "type": "quantitative", "scale": {"domain": [0, 1.49], "nice": false, "zero": false}, "axis": null},
                      "detail": {"field": "g", "type": "nominal"}},
         "layer": [
           {"transform": [{"filter": "datum.k == 'L'"}], "mark": "rule", "encoding": {"y": {"datum": 0}, "y2": {"datum": 1.49}}},
           {"transform": [{"filter": "datum.k == 'o'"}], "mark": {"type": "line", "interpolate": "step", "color": "#6f6f6f", "strokeWidth": 1.8, "clip": true}, "encoding": {}},
           {"transform": [{"filter": "datum.k == 'a'"}], "mark": {"type": "line", "clip": true}, "encoding": {}},
           {"transform": [{"filter": "datum.k == 'b'"}], "mark": {"type": "line", "strokeDash": [9, 6], "clip": true}, "encoding": {}}
         ]}
      ]
    },
    {
      "spacing": 0,
      "bounds": "flush",
      "hconcat": [
        {"data": {"name": "CIV"}, "transform": [{"filter": "datum.s == 2"}], "width": 154, "height": 149,
         "encoding": {"x": {"field": "w", "type": "quantitative", "title": null, "scale": {"domain": [1107, 1108.19], "nice": false, "zero": false}, "axis": {"values": [1107, 1108], "labels": false}},
                      "y": {"field": "f", "type": "quantitative", "scale": {"domain": [0, 1.49], "nice": false, "zero": false}, "axis": {"title": ["PG 0834", "+500"], "labels": false, "ticks": false, "domain": false, "grid": false, "titlePadding": 14, "titleLineHeight": 31}},
                      "detail": {"field": "g", "type": "nominal"}},
         "layer": [
           {"transform": [{"filter": "datum.k == 'L'"}], "mark": "rule", "encoding": {"y": {"datum": 0}, "y2": {"datum": 1.49}}},
           {"transform": [{"filter": "datum.k == 'o'"}], "mark": {"type": "line", "interpolate": "step", "color": "#6f6f6f", "strokeWidth": 1.8, "clip": true}, "encoding": {}},
           {"transform": [{"filter": "datum.k == 'a'"}], "mark": {"type": "line", "clip": true}, "encoding": {}},
           {"transform": [{"filter": "datum.k == 'b'"}], "mark": {"type": "line", "strokeDash": [9, 6], "clip": true}, "encoding": {}}
         ]},
        {"data": {"name": "NIV"}, "transform": [{"filter": "datum.s == 2"}], "width": 154, "height": 149,
         "encoding": {"x": {"field": "w", "type": "quantitative", "title": null, "scale": {"domain": [922.01, 924.01], "nice": false, "zero": false}, "axis": {"values": [923, 924], "labels": false}},
                      "y": {"field": "f", "type": "quantitative", "scale": {"domain": [0, 1.49], "nice": false, "zero": false}, "axis": null},
                      "detail": {"field": "g", "type": "nominal"}},
         "layer": [
           {"transform": [{"filter": "datum.k == 'L'"}], "mark": "rule", "encoding": {"y": {"datum": 0}, "y2": {"datum": 1.49}}},
           {"transform": [{"filter": "datum.k == 'o'"}], "mark": {"type": "line", "interpolate": "step", "color": "#6f6f6f", "strokeWidth": 1.8, "clip": true}, "encoding": {}},
           {"transform": [{"filter": "datum.k == 'a'"}], "mark": {"type": "line", "clip": true}, "encoding": {}},
           {"transform": [{"filter": "datum.k == 'b'"}], "mark": {"type": "line", "strokeDash": [9, 6], "clip": true}, "encoding": {}}
         ]},
        {"data": {"name": "OIV"}, "transform": [{"filter": "datum.s == 2"}], "width": 154, "height": 149,
         "encoding": {"x": {"field": "w", "type": "quantitative", "title": null, "scale": {"domain": [1067.01, 1069.0], "nice": false, "zero": false}, "axis": {"values": [1068, 1069], "labels": false}},
                      "y": {"field": "f", "type": "quantitative", "scale": {"domain": [0, 1.49], "nice": false, "zero": false}, "axis": null},
                      "detail": {"field": "g", "type": "nominal"}},
         "layer": [
           {"transform": [{"filter": "datum.k == 'L'"}], "mark": "rule", "encoding": {"y": {"datum": 0}, "y2": {"datum": 1.49}}},
           {"transform": [{"filter": "datum.k == 'o'"}], "mark": {"type": "line", "interpolate": "step", "color": "#6f6f6f", "strokeWidth": 1.8, "clip": true}, "encoding": {}},
           {"transform": [{"filter": "datum.k == 'a'"}], "mark": {"type": "line", "clip": true}, "encoding": {}},
           {"transform": [{"filter": "datum.k == 'b'"}], "mark": {"type": "line", "strokeDash": [9, 6], "clip": true}, "encoding": {}}
         ]},
        {"data": {"name": "OVI"}, "transform": [{"filter": "datum.s == 2"}], "width": 154, "height": 149,
         "encoding": {"x": {"field": "w", "type": "quantitative", "title": null, "scale": {"domain": [1030.97, 1033.2], "nice": false, "zero": false}, "axis": {"values": [1032, 1033], "labels": false}},
                      "y": {"field": "f", "type": "quantitative", "scale": {"domain": [0, 1.49], "nice": false, "zero": false}, "axis": null},
                      "detail": {"field": "g", "type": "nominal"}},
         "layer": [
           {"transform": [{"filter": "datum.k == 'L'"}], "mark": "rule", "encoding": {"y": {"datum": 0}, "y2": {"datum": 1.49}}},
           {"transform": [{"filter": "datum.k == 'o'"}], "mark": {"type": "line", "interpolate": "step", "color": "#6f6f6f", "strokeWidth": 1.8, "clip": true}, "encoding": {}},
           {"transform": [{"filter": "datum.k == 'a'"}], "mark": {"type": "line", "clip": true}, "encoding": {}},
           {"transform": [{"filter": "datum.k == 'b'"}], "mark": {"type": "line", "strokeDash": [9, 6], "clip": true}, "encoding": {}}
         ]},
        {"data": {"name": "SiIV"}, "transform": [{"filter": "datum.s == 2"}], "width": 154, "height": 149,
         "encoding": {"x": {"field": "w", "type": "quantitative", "title": null, "scale": {"domain": [1127.4, 1129.0], "nice": false, "zero": false}, "axis": {"values": [1128, 1129], "labels": false}},
                      "y": {"field": "f", "type": "quantitative", "scale": {"domain": [0, 1.49], "nice": false, "zero": false}, "axis": null},
                      "detail": {"field": "g", "type": "nominal"}},
         "layer": [
           {"transform": [{"filter": "datum.k == 'L'"}], "mark": "rule", "encoding": {"y": {"datum": 0}, "y2": {"datum": 1.49}}},
           {"transform": [{"filter": "datum.k == 'o'"}], "mark": {"type": "line", "interpolate": "step", "color": "#6f6f6f", "strokeWidth": 1.8, "clip": true}, "encoding": {}},
           {"transform": [{"filter": "datum.k == 'a'"}], "mark": {"type": "line", "clip": true}, "encoding": {}},
           {"transform": [{"filter": "datum.k == 'b'"}], "mark": {"type": "line", "strokeDash": [9, 6], "clip": true}, "encoding": {}}
         ]},
        {"data": {"name": "FeVI"}, "transform": [{"filter": "datum.s == 2"}], "width": 154, "height": 149,
         "encoding": {"x": {"field": "w", "type": "quantitative", "title": null, "scale": {"domain": [1165.03, 1167.0], "nice": false, "zero": false}, "axis": {"values": [1166, 1167], "labels": false}},
                      "y": {"field": "f", "type": "quantitative", "scale": {"domain": [0, 1.49], "nice": false, "zero": false}, "axis": null},
                      "detail": {"field": "g", "type": "nominal"}},
         "layer": [
           {"transform": [{"filter": "datum.k == 'L'"}], "mark": "rule", "encoding": {"y": {"datum": 0}, "y2": {"datum": 1.49}}},
           {"transform": [{"filter": "datum.k == 'o'"}], "mark": {"type": "line", "interpolate": "step", "color": "#6f6f6f", "strokeWidth": 1.8, "clip": true}, "encoding": {}},
           {"transform": [{"filter": "datum.k == 'a'"}], "mark": {"type": "line", "clip": true}, "encoding": {}},
           {"transform": [{"filter": "datum.k == 'b'"}], "mark": {"type": "line", "strokeDash": [9, 6], "clip": true}, "encoding": {}}
         ]},
        {"data": {"name": "NiV"}, "transform": [{"filter": "datum.s == 2"}], "width": 154, "height": 149,
         "encoding": {"x": {"field": "w", "type": "quantitative", "title": null, "scale": {"domain": [1178.0, 1180.0], "nice": false, "zero": false}, "axis": {"values": [1179, 1180], "labels": false}},
                      "y": {"field": "f", "type": "quantitative", "scale": {"domain": [0, 1.49], "nice": false, "zero": false}, "axis": null},
                      "detail": {"field": "g", "type": "nominal"}},
         "layer": [
           {"transform": [{"filter": "datum.k == 'L'"}], "mark": "rule", "encoding": {"y": {"datum": 0}, "y2": {"datum": 1.49}}},
           {"transform": [{"filter": "datum.k == 'o'"}], "mark": {"type": "line", "interpolate": "step", "color": "#6f6f6f", "strokeWidth": 1.8, "clip": true}, "encoding": {}},
           {"transform": [{"filter": "datum.k == 'a'"}], "mark": {"type": "line", "clip": true}, "encoding": {}},
           {"transform": [{"filter": "datum.k == 'b'"}], "mark": {"type": "line", "strokeDash": [9, 6], "clip": true}, "encoding": {}}
         ]}
      ]
    },
    {
      "spacing": 0,
      "bounds": "flush",
      "hconcat": [
        {"data": {"name": "CIV"}, "transform": [{"filter": "datum.s == 3"}], "width": 154, "height": 149,
         "encoding": {"x": {"field": "w", "type": "quantitative", "title": null, "scale": {"domain": [1107, 1108.19], "nice": false, "zero": false}, "axis": {"values": [1107, 1108], "labelOffset": 0}},
                      "y": {"field": "f", "type": "quantitative", "scale": {"domain": [0, 1.49], "nice": false, "zero": false}, "axis": {"title": ["HS 1136", "+6646"], "labels": false, "ticks": false, "domain": false, "grid": false, "titlePadding": 14, "titleLineHeight": 31}},
                      "detail": {"field": "g", "type": "nominal"}},
         "layer": [
           {"transform": [{"filter": "datum.k == 'L'"}], "mark": "rule", "encoding": {"y": {"datum": 0}, "y2": {"datum": 1.49}}},
           {"transform": [{"filter": "datum.k == 'o'"}], "mark": {"type": "line", "interpolate": "step", "color": "#6f6f6f", "strokeWidth": 1.8, "clip": true}, "encoding": {}},
           {"transform": [{"filter": "datum.k == 'a'"}], "mark": {"type": "line", "clip": true}, "encoding": {}},
           {"transform": [{"filter": "datum.k == 'b'"}], "mark": {"type": "line", "strokeDash": [9, 6], "clip": true}, "encoding": {}}
         ]},
        {"data": {"name": "NIV"}, "transform": [{"filter": "datum.s == 3"}], "width": 154, "height": 149,
         "encoding": {"x": {"field": "w", "type": "quantitative", "title": null, "scale": {"domain": [922.01, 924.01], "nice": false, "zero": false}, "axis": {"values": [923, 924], "labelOffset": -6}},
                      "y": {"field": "f", "type": "quantitative", "scale": {"domain": [0, 1.49], "nice": false, "zero": false}, "axis": null},
                      "detail": {"field": "g", "type": "nominal"}},
         "layer": [
           {"transform": [{"filter": "datum.k == 'L'"}], "mark": "rule", "encoding": {"y": {"datum": 0}, "y2": {"datum": 1.49}}},
           {"transform": [{"filter": "datum.k == 'o'"}], "mark": {"type": "line", "interpolate": "step", "color": "#6f6f6f", "strokeWidth": 1.8, "clip": true}, "encoding": {}},
           {"transform": [{"filter": "datum.k == 'a'"}], "mark": {"type": "line", "clip": true}, "encoding": {}},
           {"transform": [{"filter": "datum.k == 'b'"}], "mark": {"type": "line", "strokeDash": [9, 6], "clip": true}, "encoding": {}}
         ]},
        {"data": {"name": "OIV"}, "transform": [{"filter": "datum.s == 3"}], "width": 154, "height": 149,
         "encoding": {"x": {"field": "w", "type": "quantitative", "title": null, "scale": {"domain": [1067.01, 1069.0], "nice": false, "zero": false}, "axis": {"values": [1068, 1069], "labelOffset": -2}},
                      "y": {"field": "f", "type": "quantitative", "scale": {"domain": [0, 1.49], "nice": false, "zero": false}, "axis": null},
                      "detail": {"field": "g", "type": "nominal"}},
         "layer": [
           {"transform": [{"filter": "datum.k == 'L'"}], "mark": "rule", "encoding": {"y": {"datum": 0}, "y2": {"datum": 1.49}}},
           {"transform": [{"filter": "datum.k == 'o'"}], "mark": {"type": "line", "interpolate": "step", "color": "#6f6f6f", "strokeWidth": 1.8, "clip": true}, "encoding": {}},
           {"transform": [{"filter": "datum.k == 'a'"}], "mark": {"type": "line", "clip": true}, "encoding": {}},
           {"transform": [{"filter": "datum.k == 'b'"}], "mark": {"type": "line", "strokeDash": [9, 6], "clip": true}, "encoding": {}}
         ]},
        {"data": {"name": "OVI"}, "transform": [{"filter": "datum.s == 3"}], "width": 154, "height": 149,
         "encoding": {"x": {"field": "w", "type": "quantitative", "title": null, "scale": {"domain": [1030.97, 1033.2], "nice": false, "zero": false}, "axis": {"values": [1032, 1033], "labelOffset": -11}},
                      "y": {"field": "f", "type": "quantitative", "scale": {"domain": [0, 1.49], "nice": false, "zero": false}, "axis": null},
                      "detail": {"field": "g", "type": "nominal"}},
         "layer": [
           {"transform": [{"filter": "datum.k == 'L'"}], "mark": "rule", "encoding": {"y": {"datum": 0}, "y2": {"datum": 1.49}}},
           {"transform": [{"filter": "datum.k == 'o'"}], "mark": {"type": "line", "interpolate": "step", "color": "#6f6f6f", "strokeWidth": 1.8, "clip": true}, "encoding": {}},
           {"transform": [{"filter": "datum.k == 'a'"}], "mark": {"type": "line", "clip": true}, "encoding": {}},
           {"transform": [{"filter": "datum.k == 'b'"}], "mark": {"type": "line", "strokeDash": [9, 6], "clip": true}, "encoding": {}}
         ]},
        {"data": {"name": "SiIV"}, "transform": [{"filter": "datum.s == 3"}], "width": 154, "height": 149,
         "encoding": {"x": {"field": "w", "type": "quantitative", "title": null, "scale": {"domain": [1127.4, 1129.0], "nice": false, "zero": false}, "axis": {"values": [1128, 1129], "labelOffset": {"condition": {"test": "datum.value == 1129", "value": -6}, "value": 0}}},
                      "y": {"field": "f", "type": "quantitative", "scale": {"domain": [0, 1.49], "nice": false, "zero": false}, "axis": null},
                      "detail": {"field": "g", "type": "nominal"}},
         "layer": [
           {"transform": [{"filter": "datum.k == 'L'"}], "mark": "rule", "encoding": {"y": {"datum": 0}, "y2": {"datum": 1.49}}},
           {"transform": [{"filter": "datum.k == 'o'"}], "mark": {"type": "line", "interpolate": "step", "color": "#6f6f6f", "strokeWidth": 1.8, "clip": true}, "encoding": {}},
           {"transform": [{"filter": "datum.k == 'a'"}], "mark": {"type": "line", "clip": true}, "encoding": {}},
           {"transform": [{"filter": "datum.k == 'b'"}], "mark": {"type": "line", "strokeDash": [9, 6], "clip": true}, "encoding": {}}
         ]},
        {"data": {"name": "FeVI"}, "transform": [{"filter": "datum.s == 3"}], "width": 154, "height": 149,
         "encoding": {"x": {"field": "w", "type": "quantitative", "title": null, "scale": {"domain": [1165.03, 1167.0], "nice": false, "zero": false}, "axis": {"values": [1166, 1167], "labelOffset": {"condition": {"test": "datum.value == 1166", "value": -18}, "value": -11}}},
                      "y": {"field": "f", "type": "quantitative", "scale": {"domain": [0, 1.49], "nice": false, "zero": false}, "axis": null},
                      "detail": {"field": "g", "type": "nominal"}},
         "layer": [
           {"transform": [{"filter": "datum.k == 'L'"}], "mark": "rule", "encoding": {"y": {"datum": 0}, "y2": {"datum": 1.49}}},
           {"transform": [{"filter": "datum.k == 'o'"}], "mark": {"type": "line", "interpolate": "step", "color": "#6f6f6f", "strokeWidth": 1.8, "clip": true}, "encoding": {}},
           {"transform": [{"filter": "datum.k == 'a'"}], "mark": {"type": "line", "clip": true}, "encoding": {}},
           {"transform": [{"filter": "datum.k == 'b'"}], "mark": {"type": "line", "strokeDash": [9, 6], "clip": true}, "encoding": {}}
         ]},
        {"data": {"name": "NiV"}, "transform": [{"filter": "datum.s == 3"}], "width": 154, "height": 149,
         "encoding": {"x": {"field": "w", "type": "quantitative", "title": null, "scale": {"domain": [1178.0, 1180.0], "nice": false, "zero": false}, "axis": {"values": [1179, 1180], "labelOffset": -17}},
                      "y": {"field": "f", "type": "quantitative", "scale": {"domain": [0, 1.49], "nice": false, "zero": false}, "axis": null},
                      "detail": {"field": "g", "type": "nominal"}},
         "layer": [
           {"transform": [{"filter": "datum.k == 'L'"}], "mark": "rule", "encoding": {"y": {"datum": 0}, "y2": {"datum": 1.49}}},
           {"transform": [{"filter": "datum.k == 'o'"}], "mark": {"type": "line", "interpolate": "step", "color": "#6f6f6f", "strokeWidth": 1.8, "clip": true}, "encoding": {}},
           {"transform": [{"filter": "datum.k == 'a'"}], "mark": {"type": "line", "clip": true}, "encoding": {}},
           {"transform": [{"filter": "datum.k == 'b'"}], "mark": {"type": "line", "strokeDash": [9, 6], "clip": true}, "encoding": {}}
         ]}
      ]
    }
  ]
}
